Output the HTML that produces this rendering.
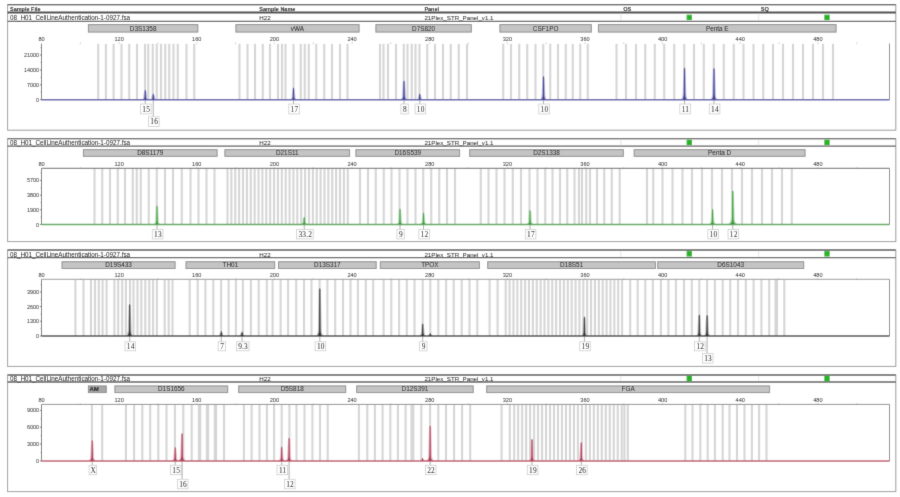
<!DOCTYPE html>
<html><head><meta charset="utf-8"><title>Electropherogram</title>
<style>html,body{margin:0;padding:0;background:#fff;}body{width:900px;height:497px;overflow:hidden;}svg{display:block;}</style></head><body>
<svg width="900" height="497" viewBox="0 0 900 497">
<defs><filter id="soft" x="0" y="0" width="900" height="497" filterUnits="userSpaceOnUse"><feConvolveMatrix order="3" kernelMatrix="0.0121 0.0858 0.0121 0.0858 0.6084 0.0858 0.0121 0.0858 0.0121" divisor="1" edgeMode="duplicate"/></filter></defs>
<g filter="url(#soft)">
<rect x="0" y="0" width="900" height="497" fill="#fff"/>
<rect x="7.6" y="4.7" width="888.2" height="125.5" fill="none" stroke="#9a9a9a" stroke-width="1"/>
<line x1="7.6" y1="4.7" x2="895.8" y2="4.7" stroke="#555" stroke-width="1.2"/>
<line x1="7.6" y1="12.5" x2="895.8" y2="12.5" stroke="#444" stroke-width="1.8"/>
<text x="10" y="10.7" font-family="'Liberation Sans', Arial, sans-serif" font-size="5.5" font-weight="bold" fill="#000" text-anchor="start">Sample File</text>
<text x="259.3" y="10.7" font-family="'Liberation Sans', Arial, sans-serif" font-size="5.5" font-weight="bold" fill="#000" text-anchor="start">Sample Name</text>
<text x="424.4" y="10.7" font-family="'Liberation Sans', Arial, sans-serif" font-size="5.5" font-weight="bold" fill="#000" text-anchor="start">Panel</text>
<text x="623.2" y="10.7" font-family="'Liberation Sans', Arial, sans-serif" font-size="5.7" font-weight="bold" fill="#111" text-anchor="start">OS</text>
<text x="760.8" y="10.7" font-family="'Liberation Sans', Arial, sans-serif" font-size="5.7" font-weight="bold" fill="#111" text-anchor="start">SQ</text>
<line x1="7.6" y1="21.3" x2="895.8" y2="21.3" stroke="#5a5a5a" stroke-width="1.3"/>
<line x1="620.8" y1="13.3" x2="620.8" y2="20.5" stroke="#ddd" stroke-width="0.8"/>
<line x1="758.6" y1="13.3" x2="758.6" y2="20.5" stroke="#ddd" stroke-width="0.8"/>
<text x="10" y="19.7" font-family="'Liberation Sans', Arial, sans-serif" font-size="6.3" font-weight="normal" fill="#000" text-anchor="start">08_H01_CellLineAuthentication-1-0927.fsa</text>
<text x="259.3" y="19.7" font-family="'Liberation Sans', Arial, sans-serif" font-size="6.2" font-weight="normal" fill="#000" text-anchor="start">H22</text>
<text x="424.4" y="19.7" font-family="'Liberation Sans', Arial, sans-serif" font-size="6.2" font-weight="normal" fill="#000" text-anchor="start">21Plex_STR_Panel_v1.1</text>
<rect x="686.6" y="14.7" width="5.4" height="5.4" fill="#27b327"/>
<rect x="824.3" y="14.7" width="5.4" height="5.4" fill="#27b327"/>
<rect x="88.4" y="24.6" width="109.45" height="7.5" fill="#c4c4c4" stroke="#8e8e8e" stroke-width="1"/>
<text x="143.12" y="30.5" font-family="'Liberation Sans', Arial, sans-serif" font-size="6.4" font-weight="normal" fill="#111" text-anchor="middle">D3S1358</text>
<rect x="235.9" y="24.6" width="123.2" height="7.5" fill="#c4c4c4" stroke="#8e8e8e" stroke-width="1"/>
<text x="297.5" y="30.5" font-family="'Liberation Sans', Arial, sans-serif" font-size="6.4" font-weight="normal" fill="#111" text-anchor="middle">vWA</text>
<rect x="375.9" y="24.6" width="95.45" height="7.5" fill="#c4c4c4" stroke="#8e8e8e" stroke-width="1"/>
<text x="423.62" y="30.5" font-family="'Liberation Sans', Arial, sans-serif" font-size="6.4" font-weight="normal" fill="#111" text-anchor="middle">D7S820</text>
<rect x="499.9" y="24.6" width="91.45" height="7.5" fill="#c4c4c4" stroke="#8e8e8e" stroke-width="1"/>
<text x="545.62" y="30.5" font-family="'Liberation Sans', Arial, sans-serif" font-size="6.4" font-weight="normal" fill="#111" text-anchor="middle">CSF1PO</text>
<rect x="598.4" y="24.6" width="237.7" height="7.5" fill="#c4c4c4" stroke="#8e8e8e" stroke-width="1"/>
<text x="717.25" y="30.5" font-family="'Liberation Sans', Arial, sans-serif" font-size="6.4" font-weight="normal" fill="#111" text-anchor="middle">Penta E</text>
<text x="41.5" y="40.8" font-family="'Liberation Sans', Arial, sans-serif" font-size="5.6" font-weight="normal" fill="#111" text-anchor="middle">80</text>
<line x1="80.32" y1="42.4" x2="80.32" y2="44.2" stroke="#bbb" stroke-width="0.7"/>
<text x="119.14" y="40.8" font-family="'Liberation Sans', Arial, sans-serif" font-size="5.6" font-weight="normal" fill="#111" text-anchor="middle">120</text>
<line x1="119.14" y1="42.4" x2="119.14" y2="44.2" stroke="#bbb" stroke-width="0.7"/>
<line x1="157.96" y1="42.4" x2="157.96" y2="44.2" stroke="#bbb" stroke-width="0.7"/>
<text x="196.78" y="40.8" font-family="'Liberation Sans', Arial, sans-serif" font-size="5.6" font-weight="normal" fill="#111" text-anchor="middle">160</text>
<line x1="196.78" y1="42.4" x2="196.78" y2="44.2" stroke="#bbb" stroke-width="0.7"/>
<line x1="235.6" y1="42.4" x2="235.6" y2="44.2" stroke="#bbb" stroke-width="0.7"/>
<text x="274.42" y="40.8" font-family="'Liberation Sans', Arial, sans-serif" font-size="5.6" font-weight="normal" fill="#111" text-anchor="middle">200</text>
<line x1="274.42" y1="42.4" x2="274.42" y2="44.2" stroke="#bbb" stroke-width="0.7"/>
<line x1="313.24" y1="42.4" x2="313.24" y2="44.2" stroke="#bbb" stroke-width="0.7"/>
<text x="352.06" y="40.8" font-family="'Liberation Sans', Arial, sans-serif" font-size="5.6" font-weight="normal" fill="#111" text-anchor="middle">240</text>
<line x1="352.06" y1="42.4" x2="352.06" y2="44.2" stroke="#bbb" stroke-width="0.7"/>
<line x1="390.88" y1="42.4" x2="390.88" y2="44.2" stroke="#bbb" stroke-width="0.7"/>
<text x="429.7" y="40.8" font-family="'Liberation Sans', Arial, sans-serif" font-size="5.6" font-weight="normal" fill="#111" text-anchor="middle">280</text>
<line x1="429.7" y1="42.4" x2="429.7" y2="44.2" stroke="#bbb" stroke-width="0.7"/>
<line x1="468.52" y1="42.4" x2="468.52" y2="44.2" stroke="#bbb" stroke-width="0.7"/>
<text x="507.34" y="40.8" font-family="'Liberation Sans', Arial, sans-serif" font-size="5.6" font-weight="normal" fill="#111" text-anchor="middle">320</text>
<line x1="507.34" y1="42.4" x2="507.34" y2="44.2" stroke="#bbb" stroke-width="0.7"/>
<line x1="546.16" y1="42.4" x2="546.16" y2="44.2" stroke="#bbb" stroke-width="0.7"/>
<text x="584.98" y="40.8" font-family="'Liberation Sans', Arial, sans-serif" font-size="5.6" font-weight="normal" fill="#111" text-anchor="middle">360</text>
<line x1="584.98" y1="42.4" x2="584.98" y2="44.2" stroke="#bbb" stroke-width="0.7"/>
<line x1="623.8" y1="42.4" x2="623.8" y2="44.2" stroke="#bbb" stroke-width="0.7"/>
<text x="662.62" y="40.8" font-family="'Liberation Sans', Arial, sans-serif" font-size="5.6" font-weight="normal" fill="#111" text-anchor="middle">400</text>
<line x1="662.62" y1="42.4" x2="662.62" y2="44.2" stroke="#bbb" stroke-width="0.7"/>
<line x1="701.44" y1="42.4" x2="701.44" y2="44.2" stroke="#bbb" stroke-width="0.7"/>
<text x="740.26" y="40.8" font-family="'Liberation Sans', Arial, sans-serif" font-size="5.6" font-weight="normal" fill="#111" text-anchor="middle">440</text>
<line x1="740.26" y1="42.4" x2="740.26" y2="44.2" stroke="#bbb" stroke-width="0.7"/>
<line x1="779.08" y1="42.4" x2="779.08" y2="44.2" stroke="#bbb" stroke-width="0.7"/>
<text x="817.9" y="40.8" font-family="'Liberation Sans', Arial, sans-serif" font-size="5.6" font-weight="normal" fill="#111" text-anchor="middle">480</text>
<line x1="817.9" y1="42.4" x2="817.9" y2="44.2" stroke="#bbb" stroke-width="0.7"/>
<line x1="856.72" y1="42.4" x2="856.72" y2="44.2" stroke="#bbb" stroke-width="0.7"/>
<line x1="98.2" y1="43.8" x2="98.2" y2="99.7" stroke="#d5d5d5" stroke-width="2.1"/>
<line x1="105.9" y1="43.8" x2="105.9" y2="99.7" stroke="#d5d5d5" stroke-width="2.1"/>
<line x1="113.6" y1="43.8" x2="113.6" y2="99.7" stroke="#d5d5d5" stroke-width="2.1"/>
<line x1="121.5" y1="43.8" x2="121.5" y2="99.7" stroke="#d5d5d5" stroke-width="2.1"/>
<line x1="129.25" y1="43.8" x2="129.25" y2="99.7" stroke="#d5d5d5" stroke-width="2.1"/>
<line x1="137" y1="43.8" x2="137" y2="99.7" stroke="#d5d5d5" stroke-width="2.1"/>
<line x1="145" y1="43.8" x2="145" y2="99.7" stroke="#d5d5d5" stroke-width="2.1"/>
<line x1="148.25" y1="43.8" x2="148.25" y2="99.7" stroke="#d5d5d5" stroke-width="2.1"/>
<line x1="152.75" y1="43.8" x2="152.75" y2="99.7" stroke="#d5d5d5" stroke-width="2.1"/>
<line x1="156.75" y1="43.8" x2="156.75" y2="99.7" stroke="#d5d5d5" stroke-width="2.1"/>
<line x1="161" y1="43.8" x2="161" y2="99.7" stroke="#d5d5d5" stroke-width="2.1"/>
<line x1="165.25" y1="43.8" x2="165.25" y2="99.7" stroke="#d5d5d5" stroke-width="2.1"/>
<line x1="169.25" y1="43.8" x2="169.25" y2="99.7" stroke="#d5d5d5" stroke-width="2.1"/>
<line x1="173.5" y1="43.8" x2="173.5" y2="99.7" stroke="#d5d5d5" stroke-width="2.1"/>
<line x1="177.75" y1="43.8" x2="177.75" y2="99.7" stroke="#d5d5d5" stroke-width="2.1"/>
<line x1="186.5" y1="43.8" x2="186.5" y2="99.7" stroke="#d5d5d5" stroke-width="2.1"/>
<line x1="194.25" y1="43.8" x2="194.25" y2="99.7" stroke="#d5d5d5" stroke-width="2.1"/>
<line x1="239.5" y1="43.8" x2="239.5" y2="99.7" stroke="#d5d5d5" stroke-width="2.1"/>
<line x1="247.5" y1="43.8" x2="247.5" y2="99.7" stroke="#d5d5d5" stroke-width="2.1"/>
<line x1="255" y1="43.8" x2="255" y2="99.7" stroke="#d5d5d5" stroke-width="2.1"/>
<line x1="262.75" y1="43.8" x2="262.75" y2="99.7" stroke="#d5d5d5" stroke-width="2.1"/>
<line x1="270" y1="43.8" x2="270" y2="99.7" stroke="#d5d5d5" stroke-width="2.1"/>
<line x1="278" y1="43.8" x2="278" y2="99.7" stroke="#d5d5d5" stroke-width="2.1"/>
<line x1="282" y1="43.8" x2="282" y2="99.7" stroke="#d5d5d5" stroke-width="2.1"/>
<line x1="285.5" y1="43.8" x2="285.5" y2="99.7" stroke="#d5d5d5" stroke-width="2.1"/>
<line x1="293.5" y1="43.8" x2="293.5" y2="99.7" stroke="#d5d5d5" stroke-width="2.1"/>
<line x1="300.75" y1="43.8" x2="300.75" y2="99.7" stroke="#d5d5d5" stroke-width="2.1"/>
<line x1="304.75" y1="43.8" x2="304.75" y2="99.7" stroke="#d5d5d5" stroke-width="2.1"/>
<line x1="308.75" y1="43.8" x2="308.75" y2="99.7" stroke="#d5d5d5" stroke-width="2.1"/>
<line x1="316.25" y1="43.8" x2="316.25" y2="99.7" stroke="#d5d5d5" stroke-width="2.1"/>
<line x1="324.25" y1="43.8" x2="324.25" y2="99.7" stroke="#d5d5d5" stroke-width="2.1"/>
<line x1="332" y1="43.8" x2="332" y2="99.7" stroke="#d5d5d5" stroke-width="2.1"/>
<line x1="340" y1="43.8" x2="340" y2="99.7" stroke="#d5d5d5" stroke-width="2.1"/>
<line x1="347.5" y1="43.8" x2="347.5" y2="99.7" stroke="#d5d5d5" stroke-width="2.1"/>
<line x1="380" y1="43.8" x2="380" y2="99.7" stroke="#d5d5d5" stroke-width="2.1"/>
<line x1="383.5" y1="43.8" x2="383.5" y2="99.7" stroke="#d5d5d5" stroke-width="2.1"/>
<line x1="388" y1="43.8" x2="388" y2="99.7" stroke="#d5d5d5" stroke-width="2.1"/>
<line x1="396" y1="43.8" x2="396" y2="99.7" stroke="#d5d5d5" stroke-width="2.1"/>
<line x1="403.75" y1="43.8" x2="403.75" y2="99.7" stroke="#d5d5d5" stroke-width="2.1"/>
<line x1="407.5" y1="43.8" x2="407.5" y2="99.7" stroke="#d5d5d5" stroke-width="2.1"/>
<line x1="411.75" y1="43.8" x2="411.75" y2="99.7" stroke="#d5d5d5" stroke-width="2.1"/>
<line x1="415.5" y1="43.8" x2="415.5" y2="99.7" stroke="#d5d5d5" stroke-width="2.1"/>
<line x1="419.5" y1="43.8" x2="419.5" y2="99.7" stroke="#d5d5d5" stroke-width="2.1"/>
<line x1="427.25" y1="43.8" x2="427.25" y2="99.7" stroke="#d5d5d5" stroke-width="2.1"/>
<line x1="435" y1="43.8" x2="435" y2="99.7" stroke="#d5d5d5" stroke-width="2.1"/>
<line x1="443" y1="43.8" x2="443" y2="99.7" stroke="#d5d5d5" stroke-width="2.1"/>
<line x1="450.75" y1="43.8" x2="450.75" y2="99.7" stroke="#d5d5d5" stroke-width="2.1"/>
<line x1="458.75" y1="43.8" x2="458.75" y2="99.7" stroke="#d5d5d5" stroke-width="2.1"/>
<line x1="467" y1="43.8" x2="467" y2="99.7" stroke="#d5d5d5" stroke-width="2.1"/>
<line x1="503.25" y1="43.8" x2="503.25" y2="99.7" stroke="#d5d5d5" stroke-width="2.1"/>
<line x1="511" y1="43.8" x2="511" y2="99.7" stroke="#d5d5d5" stroke-width="2.1"/>
<line x1="519.25" y1="43.8" x2="519.25" y2="99.7" stroke="#d5d5d5" stroke-width="2.1"/>
<line x1="527.25" y1="43.8" x2="527.25" y2="99.7" stroke="#d5d5d5" stroke-width="2.1"/>
<line x1="535.5" y1="43.8" x2="535.5" y2="99.7" stroke="#d5d5d5" stroke-width="2.1"/>
<line x1="543.25" y1="43.8" x2="543.25" y2="99.7" stroke="#d5d5d5" stroke-width="2.1"/>
<line x1="550.25" y1="43.8" x2="550.25" y2="99.7" stroke="#d5d5d5" stroke-width="2.1"/>
<line x1="558" y1="43.8" x2="558" y2="99.7" stroke="#d5d5d5" stroke-width="2.1"/>
<line x1="565.75" y1="43.8" x2="565.75" y2="99.7" stroke="#d5d5d5" stroke-width="2.1"/>
<line x1="572.75" y1="43.8" x2="572.75" y2="99.7" stroke="#d5d5d5" stroke-width="2.1"/>
<line x1="580.25" y1="43.8" x2="580.25" y2="99.7" stroke="#d5d5d5" stroke-width="2.1"/>
<line x1="587.75" y1="43.8" x2="587.75" y2="99.7" stroke="#d5d5d5" stroke-width="2.1"/>
<line x1="616.5" y1="43.8" x2="616.5" y2="99.7" stroke="#d5d5d5" stroke-width="2.1"/>
<line x1="626" y1="43.8" x2="626" y2="99.7" stroke="#d5d5d5" stroke-width="2.1"/>
<line x1="636" y1="43.8" x2="636" y2="99.7" stroke="#d5d5d5" stroke-width="2.1"/>
<line x1="645.25" y1="43.8" x2="645.25" y2="99.7" stroke="#d5d5d5" stroke-width="2.1"/>
<line x1="654.75" y1="43.8" x2="654.75" y2="99.7" stroke="#d5d5d5" stroke-width="2.1"/>
<line x1="664.25" y1="43.8" x2="664.25" y2="99.7" stroke="#d5d5d5" stroke-width="2.1"/>
<line x1="674.25" y1="43.8" x2="674.25" y2="99.7" stroke="#d5d5d5" stroke-width="2.1"/>
<line x1="684.25" y1="43.8" x2="684.25" y2="99.7" stroke="#d5d5d5" stroke-width="2.1"/>
<line x1="694" y1="43.8" x2="694" y2="99.7" stroke="#d5d5d5" stroke-width="2.1"/>
<line x1="703.75" y1="43.8" x2="703.75" y2="99.7" stroke="#d5d5d5" stroke-width="2.1"/>
<line x1="713.75" y1="43.8" x2="713.75" y2="99.7" stroke="#d5d5d5" stroke-width="2.1"/>
<line x1="723.75" y1="43.8" x2="723.75" y2="99.7" stroke="#d5d5d5" stroke-width="2.1"/>
<line x1="733.75" y1="43.8" x2="733.75" y2="99.7" stroke="#d5d5d5" stroke-width="2.1"/>
<line x1="743.5" y1="43.8" x2="743.5" y2="99.7" stroke="#d5d5d5" stroke-width="2.1"/>
<line x1="753.5" y1="43.8" x2="753.5" y2="99.7" stroke="#d5d5d5" stroke-width="2.1"/>
<line x1="763.25" y1="43.8" x2="763.25" y2="99.7" stroke="#d5d5d5" stroke-width="2.1"/>
<line x1="773" y1="43.8" x2="773" y2="99.7" stroke="#d5d5d5" stroke-width="2.1"/>
<line x1="783" y1="43.8" x2="783" y2="99.7" stroke="#d5d5d5" stroke-width="2.1"/>
<line x1="793" y1="43.8" x2="793" y2="99.7" stroke="#d5d5d5" stroke-width="2.1"/>
<line x1="803" y1="43.8" x2="803" y2="99.7" stroke="#d5d5d5" stroke-width="2.1"/>
<line x1="813" y1="43.8" x2="813" y2="99.7" stroke="#d5d5d5" stroke-width="2.1"/>
<line x1="823" y1="43.8" x2="823" y2="99.7" stroke="#d5d5d5" stroke-width="2.1"/>
<line x1="833" y1="43.8" x2="833" y2="99.7" stroke="#d5d5d5" stroke-width="2.1"/>
<line x1="889.5" y1="43.6" x2="889.5" y2="99.7" stroke="#777" stroke-width="0.9"/>
<line x1="41.5" y1="43.6" x2="41.5" y2="99.7" stroke="#707070" stroke-width="1"/>
<text x="38.9" y="57" font-family="'Liberation Sans', Arial, sans-serif" font-size="5.4" font-weight="normal" fill="#111" text-anchor="end">21000</text>
<line x1="39.9" y1="55" x2="41.5" y2="55" stroke="#555" stroke-width="0.8"/>
<text x="38.9" y="72" font-family="'Liberation Sans', Arial, sans-serif" font-size="5.4" font-weight="normal" fill="#111" text-anchor="end">14000</text>
<line x1="39.9" y1="70" x2="41.5" y2="70" stroke="#555" stroke-width="0.8"/>
<text x="38.9" y="86.8" font-family="'Liberation Sans', Arial, sans-serif" font-size="5.4" font-weight="normal" fill="#111" text-anchor="end">7000</text>
<line x1="39.9" y1="84.8" x2="41.5" y2="84.8" stroke="#555" stroke-width="0.8"/>
<text x="38.9" y="101.7" font-family="'Liberation Sans', Arial, sans-serif" font-size="5.4" font-weight="normal" fill="#111" text-anchor="end">0</text>
<line x1="39.9" y1="99.7" x2="41.5" y2="99.7" stroke="#555" stroke-width="0.8"/>
<line x1="40.5" y1="62.45" x2="41.5" y2="62.45" stroke="#777" stroke-width="0.7"/>
<line x1="40.5" y1="77.45" x2="41.5" y2="77.45" stroke="#777" stroke-width="0.7"/>
<line x1="40.5" y1="92.25" x2="41.5" y2="92.25" stroke="#777" stroke-width="0.7"/>
<line x1="40.5" y1="47.55" x2="41.5" y2="47.55" stroke="#777" stroke-width="0.7"/>
<line x1="145.25" y1="100.2" x2="145.25" y2="104" stroke="#8a8a8a" stroke-width="0.7"/>
<rect x="140.55" y="104" width="10.6" height="9.9" fill="#fff" stroke="#cdcdcd" stroke-width="0.8"/>
<text x="146.25" y="111.7" font-family="'Liberation Serif', 'Times New Roman', serif" font-size="7.4" font-weight="normal" fill="#000" text-anchor="middle" letter-spacing="0.2">15</text>
<line x1="153.25" y1="100.2" x2="153.25" y2="116.8" stroke="#8a8a8a" stroke-width="0.7"/>
<rect x="148.55" y="116.8" width="10.6" height="9.6" fill="#fff" stroke="#cdcdcd" stroke-width="0.8"/>
<text x="154.25" y="124.2" font-family="'Liberation Serif', 'Times New Roman', serif" font-size="7.4" font-weight="normal" fill="#000" text-anchor="middle" letter-spacing="0.2">16</text>
<line x1="293.5" y1="100.2" x2="293.5" y2="104" stroke="#8a8a8a" stroke-width="0.7"/>
<rect x="288.8" y="104" width="10.6" height="9.9" fill="#fff" stroke="#cdcdcd" stroke-width="0.8"/>
<text x="294.5" y="111.7" font-family="'Liberation Serif', 'Times New Roman', serif" font-size="7.4" font-weight="normal" fill="#000" text-anchor="middle" letter-spacing="0.2">17</text>
<line x1="404" y1="100.2" x2="404" y2="104" stroke="#8a8a8a" stroke-width="0.7"/>
<rect x="400.9" y="104" width="7.4" height="9.9" fill="#fff" stroke="#cdcdcd" stroke-width="0.8"/>
<text x="405" y="111.7" font-family="'Liberation Serif', 'Times New Roman', serif" font-size="7.4" font-weight="normal" fill="#000" text-anchor="middle" letter-spacing="0.2">8</text>
<line x1="419.75" y1="100.2" x2="419.75" y2="104" stroke="#8a8a8a" stroke-width="0.7"/>
<rect x="415.05" y="104" width="10.6" height="9.9" fill="#fff" stroke="#cdcdcd" stroke-width="0.8"/>
<text x="420.75" y="111.7" font-family="'Liberation Serif', 'Times New Roman', serif" font-size="7.4" font-weight="normal" fill="#000" text-anchor="middle" letter-spacing="0.2">10</text>
<line x1="543.5" y1="100.2" x2="543.5" y2="104" stroke="#8a8a8a" stroke-width="0.7"/>
<rect x="538.8" y="104" width="10.6" height="9.9" fill="#fff" stroke="#cdcdcd" stroke-width="0.8"/>
<text x="544.5" y="111.7" font-family="'Liberation Serif', 'Times New Roman', serif" font-size="7.4" font-weight="normal" fill="#000" text-anchor="middle" letter-spacing="0.2">10</text>
<line x1="684.5" y1="100.2" x2="684.5" y2="104" stroke="#8a8a8a" stroke-width="0.7"/>
<rect x="679.8" y="104" width="10.6" height="9.9" fill="#fff" stroke="#cdcdcd" stroke-width="0.8"/>
<text x="685.5" y="111.7" font-family="'Liberation Serif', 'Times New Roman', serif" font-size="7.4" font-weight="normal" fill="#000" text-anchor="middle" letter-spacing="0.2">11</text>
<line x1="714" y1="100.2" x2="714" y2="104" stroke="#8a8a8a" stroke-width="0.7"/>
<rect x="709.3" y="104" width="10.6" height="9.9" fill="#fff" stroke="#cdcdcd" stroke-width="0.8"/>
<text x="715" y="111.7" font-family="'Liberation Serif', 'Times New Roman', serif" font-size="7.4" font-weight="normal" fill="#000" text-anchor="middle" letter-spacing="0.2">14</text>
<path d="M140.85 99.5 C143.2 99.5 143.5 98.08 143.5 95.94 L144.15 91.25 Q145.25 89.05 146.35 91.25 L147 95.94 C147 98.08 147.3 99.5 149.65 99.5 Z" fill="#b4b4e2"/>
<path d="M148.09 99.5 C151.15 99.5 151.45 98.45 151.45 96.88 L152.15 95 Q153.25 92.8 154.35 95 L155.05 96.88 C155.05 98.45 155.35 99.5 158.41 99.5 Z" fill="#b4b4e2"/>
<path d="M289.1 99.5 C291.45 99.5 291.75 97.85 291.75 95.38 L292.4 89 Q293.5 86.8 294.6 89 L295.25 95.38 C295.25 97.85 295.55 99.5 297.9 99.5 Z" fill="#b4b4e2"/>
<path d="M399.6 99.5 C401.95 99.5 402.25 97.15 402.25 93.62 L402.9 82 Q404 79.8 405.1 82 L405.75 93.62 C405.75 97.15 406.05 99.5 408.4 99.5 Z" fill="#b4b4e2"/>
<path d="M415.35 99.5 C417.7 99.5 418 98.45 418 96.88 L418.65 95 Q419.75 92.8 420.85 95 L421.5 96.88 C421.5 98.45 421.8 99.5 424.15 99.5 Z" fill="#b4b4e2"/>
<path d="M539.1 99.5 C541.45 99.5 541.75 96.7 541.75 92.5 L542.4 77.5 Q543.5 75.3 544.6 77.5 L545.25 92.5 C545.25 96.7 545.55 99.5 547.9 99.5 Z" fill="#b4b4e2"/>
<path d="M680.1 99.5 C682.45 99.5 682.75 95.9 682.75 90.5 L683.4 69 Q684.5 66.8 685.6 69 L686.25 90.5 C686.25 95.9 686.55 99.5 688.9 99.5 Z" fill="#b4b4e2"/>
<path d="M709.6 99.5 C711.95 99.5 712.25 95.9 712.25 90.5 L712.9 69.5 Q714 67.3 715.1 69.5 L715.75 90.5 C715.75 95.9 716.05 99.5 718.4 99.5 Z" fill="#b4b4e2"/>
<line x1="41.5" y1="99.7" x2="889.5" y2="99.7" stroke="#6262ae" stroke-width="1.5"/>
<path d="M142.65 99.5 C144.3 99.5 144.6 98.08 144.6 95.94 L144.75 90.85 Q145.25 88.65 145.75 90.85 L145.9 95.94 C145.9 98.08 146.2 99.5 147.85 99.5 Z" fill="#3a3a88"/>
<path d="M150.13 99.5 C152.28 99.5 152.58 98.45 152.58 96.88 L152.75 94.6 Q153.25 92.4 153.75 94.6 L153.92 96.88 C153.92 98.45 154.22 99.5 156.37 99.5 Z" fill="#3a3a88"/>
<path d="M290.9 99.5 C292.55 99.5 292.85 97.85 292.85 95.38 L293 88.6 Q293.5 86.4 294 88.6 L294.15 95.38 C294.15 97.85 294.45 99.5 296.1 99.5 Z" fill="#3a3a88"/>
<path d="M401.4 99.5 C403.05 99.5 403.35 97.15 403.35 93.62 L403.5 81.6 Q404 79.4 404.5 81.6 L404.65 93.62 C404.65 97.15 404.95 99.5 406.6 99.5 Z" fill="#3a3a88"/>
<path d="M417.15 99.5 C418.8 99.5 419.1 98.45 419.1 96.88 L419.25 94.6 Q419.75 92.4 420.25 94.6 L420.4 96.88 C420.4 98.45 420.7 99.5 422.35 99.5 Z" fill="#3a3a88"/>
<path d="M540.9 99.5 C542.55 99.5 542.85 96.7 542.85 92.5 L543 77.1 Q543.5 74.9 544 77.1 L544.15 92.5 C544.15 96.7 544.45 99.5 546.1 99.5 Z" fill="#3a3a88"/>
<path d="M681.9 99.5 C683.55 99.5 683.85 95.9 683.85 90.5 L684 68.6 Q684.5 66.4 685 68.6 L685.15 90.5 C685.15 95.9 685.45 99.5 687.1 99.5 Z" fill="#3a3a88"/>
<path d="M711.4 99.5 C713.05 99.5 713.35 95.9 713.35 90.5 L713.5 69.1 Q714 66.9 714.5 69.1 L714.65 90.5 C714.65 95.9 714.95 99.5 716.6 99.5 Z" fill="#3a3a88"/>
<rect x="7.6" y="138.7" width="888.2" height="102.9" fill="none" stroke="#9a9a9a" stroke-width="1"/>
<line x1="7.6" y1="138.7" x2="895.8" y2="138.7" stroke="#666" stroke-width="1.3"/>
<line x1="7.6" y1="146.1" x2="895.8" y2="146.1" stroke="#5a5a5a" stroke-width="1.3"/>
<line x1="620.8" y1="139.5" x2="620.8" y2="145.3" stroke="#ddd" stroke-width="0.8"/>
<line x1="758.6" y1="139.5" x2="758.6" y2="145.3" stroke="#ddd" stroke-width="0.8"/>
<text x="10" y="145.2" font-family="'Liberation Sans', Arial, sans-serif" font-size="6.3" font-weight="normal" fill="#000" text-anchor="start">08_H01_CellLineAuthentication-1-0927.fsa</text>
<text x="259.3" y="145.2" font-family="'Liberation Sans', Arial, sans-serif" font-size="6.2" font-weight="normal" fill="#000" text-anchor="start">H22</text>
<text x="424.4" y="145.2" font-family="'Liberation Sans', Arial, sans-serif" font-size="6.2" font-weight="normal" fill="#000" text-anchor="start">21Plex_STR_Panel_v1.1</text>
<rect x="686.6" y="139.7" width="5.4" height="5.4" fill="#27b327"/>
<rect x="824.3" y="139.7" width="5.4" height="5.4" fill="#27b327"/>
<rect x="83.4" y="149.65" width="133.7" height="6.7" fill="#c4c4c4" stroke="#8e8e8e" stroke-width="1"/>
<text x="150.25" y="154.75" font-family="'Liberation Sans', Arial, sans-serif" font-size="6.4" font-weight="normal" fill="#111" text-anchor="middle">D8S1179</text>
<rect x="224.9" y="149.65" width="124.7" height="6.7" fill="#c4c4c4" stroke="#8e8e8e" stroke-width="1"/>
<text x="287.25" y="154.75" font-family="'Liberation Sans', Arial, sans-serif" font-size="6.4" font-weight="normal" fill="#111" text-anchor="middle">D21S11</text>
<rect x="355.9" y="149.65" width="103.7" height="6.7" fill="#c4c4c4" stroke="#8e8e8e" stroke-width="1"/>
<text x="407.75" y="154.75" font-family="'Liberation Sans', Arial, sans-serif" font-size="6.4" font-weight="normal" fill="#111" text-anchor="middle">D16S539</text>
<rect x="469.65" y="149.65" width="153.7" height="6.7" fill="#c4c4c4" stroke="#8e8e8e" stroke-width="1"/>
<text x="546.5" y="154.75" font-family="'Liberation Sans', Arial, sans-serif" font-size="6.4" font-weight="normal" fill="#111" text-anchor="middle">D2S1338</text>
<rect x="634.15" y="149.65" width="170.95" height="6.7" fill="#c4c4c4" stroke="#8e8e8e" stroke-width="1"/>
<text x="719.62" y="154.75" font-family="'Liberation Sans', Arial, sans-serif" font-size="6.4" font-weight="normal" fill="#111" text-anchor="middle">Penta D</text>
<text x="41.5" y="165.7" font-family="'Liberation Sans', Arial, sans-serif" font-size="5.6" font-weight="normal" fill="#111" text-anchor="middle">80</text>
<line x1="80.32" y1="167.1" x2="80.32" y2="168.9" stroke="#bbb" stroke-width="0.7"/>
<text x="119.14" y="165.7" font-family="'Liberation Sans', Arial, sans-serif" font-size="5.6" font-weight="normal" fill="#111" text-anchor="middle">120</text>
<line x1="119.14" y1="167.1" x2="119.14" y2="168.9" stroke="#bbb" stroke-width="0.7"/>
<line x1="157.96" y1="167.1" x2="157.96" y2="168.9" stroke="#bbb" stroke-width="0.7"/>
<text x="196.78" y="165.7" font-family="'Liberation Sans', Arial, sans-serif" font-size="5.6" font-weight="normal" fill="#111" text-anchor="middle">160</text>
<line x1="196.78" y1="167.1" x2="196.78" y2="168.9" stroke="#bbb" stroke-width="0.7"/>
<line x1="235.6" y1="167.1" x2="235.6" y2="168.9" stroke="#bbb" stroke-width="0.7"/>
<text x="274.42" y="165.7" font-family="'Liberation Sans', Arial, sans-serif" font-size="5.6" font-weight="normal" fill="#111" text-anchor="middle">200</text>
<line x1="274.42" y1="167.1" x2="274.42" y2="168.9" stroke="#bbb" stroke-width="0.7"/>
<line x1="313.24" y1="167.1" x2="313.24" y2="168.9" stroke="#bbb" stroke-width="0.7"/>
<text x="352.06" y="165.7" font-family="'Liberation Sans', Arial, sans-serif" font-size="5.6" font-weight="normal" fill="#111" text-anchor="middle">240</text>
<line x1="352.06" y1="167.1" x2="352.06" y2="168.9" stroke="#bbb" stroke-width="0.7"/>
<line x1="390.88" y1="167.1" x2="390.88" y2="168.9" stroke="#bbb" stroke-width="0.7"/>
<text x="429.7" y="165.7" font-family="'Liberation Sans', Arial, sans-serif" font-size="5.6" font-weight="normal" fill="#111" text-anchor="middle">280</text>
<line x1="429.7" y1="167.1" x2="429.7" y2="168.9" stroke="#bbb" stroke-width="0.7"/>
<line x1="468.52" y1="167.1" x2="468.52" y2="168.9" stroke="#bbb" stroke-width="0.7"/>
<text x="507.34" y="165.7" font-family="'Liberation Sans', Arial, sans-serif" font-size="5.6" font-weight="normal" fill="#111" text-anchor="middle">320</text>
<line x1="507.34" y1="167.1" x2="507.34" y2="168.9" stroke="#bbb" stroke-width="0.7"/>
<line x1="546.16" y1="167.1" x2="546.16" y2="168.9" stroke="#bbb" stroke-width="0.7"/>
<text x="584.98" y="165.7" font-family="'Liberation Sans', Arial, sans-serif" font-size="5.6" font-weight="normal" fill="#111" text-anchor="middle">360</text>
<line x1="584.98" y1="167.1" x2="584.98" y2="168.9" stroke="#bbb" stroke-width="0.7"/>
<line x1="623.8" y1="167.1" x2="623.8" y2="168.9" stroke="#bbb" stroke-width="0.7"/>
<text x="662.62" y="165.7" font-family="'Liberation Sans', Arial, sans-serif" font-size="5.6" font-weight="normal" fill="#111" text-anchor="middle">400</text>
<line x1="662.62" y1="167.1" x2="662.62" y2="168.9" stroke="#bbb" stroke-width="0.7"/>
<line x1="701.44" y1="167.1" x2="701.44" y2="168.9" stroke="#bbb" stroke-width="0.7"/>
<text x="740.26" y="165.7" font-family="'Liberation Sans', Arial, sans-serif" font-size="5.6" font-weight="normal" fill="#111" text-anchor="middle">440</text>
<line x1="740.26" y1="167.1" x2="740.26" y2="168.9" stroke="#bbb" stroke-width="0.7"/>
<line x1="779.08" y1="167.1" x2="779.08" y2="168.9" stroke="#bbb" stroke-width="0.7"/>
<text x="817.9" y="165.7" font-family="'Liberation Sans', Arial, sans-serif" font-size="5.6" font-weight="normal" fill="#111" text-anchor="middle">480</text>
<line x1="817.9" y1="167.1" x2="817.9" y2="168.9" stroke="#bbb" stroke-width="0.7"/>
<line x1="856.72" y1="167.1" x2="856.72" y2="168.9" stroke="#bbb" stroke-width="0.7"/>
<line x1="94.5" y1="168.5" x2="94.5" y2="224.5" stroke="#d5d5d5" stroke-width="2.1"/>
<line x1="102.25" y1="168.5" x2="102.25" y2="224.5" stroke="#d5d5d5" stroke-width="2.1"/>
<line x1="110" y1="168.5" x2="110" y2="224.5" stroke="#d5d5d5" stroke-width="2.1"/>
<line x1="117.75" y1="168.5" x2="117.75" y2="224.5" stroke="#d5d5d5" stroke-width="2.1"/>
<line x1="125" y1="168.5" x2="125" y2="224.5" stroke="#d5d5d5" stroke-width="2.1"/>
<line x1="132.75" y1="168.5" x2="132.75" y2="224.5" stroke="#d5d5d5" stroke-width="2.1"/>
<line x1="136.75" y1="168.5" x2="136.75" y2="224.5" stroke="#d5d5d5" stroke-width="2.1"/>
<line x1="140.75" y1="168.5" x2="140.75" y2="224.5" stroke="#d5d5d5" stroke-width="2.1"/>
<line x1="148.75" y1="168.5" x2="148.75" y2="224.5" stroke="#d5d5d5" stroke-width="2.1"/>
<line x1="156.75" y1="168.5" x2="156.75" y2="224.5" stroke="#d5d5d5" stroke-width="2.1"/>
<line x1="165" y1="168.5" x2="165" y2="224.5" stroke="#d5d5d5" stroke-width="2.1"/>
<line x1="173" y1="168.5" x2="173" y2="224.5" stroke="#d5d5d5" stroke-width="2.1"/>
<line x1="181.75" y1="168.5" x2="181.75" y2="224.5" stroke="#d5d5d5" stroke-width="2.1"/>
<line x1="190.5" y1="168.5" x2="190.5" y2="224.5" stroke="#d5d5d5" stroke-width="2.1"/>
<line x1="198.5" y1="168.5" x2="198.5" y2="224.5" stroke="#d5d5d5" stroke-width="2.1"/>
<line x1="206.5" y1="168.5" x2="206.5" y2="224.5" stroke="#d5d5d5" stroke-width="2.1"/>
<line x1="214.5" y1="168.5" x2="214.5" y2="224.5" stroke="#d5d5d5" stroke-width="2.1"/>
<line x1="227.5" y1="168.5" x2="227.5" y2="224.5" stroke="#d5d5d5" stroke-width="2.1"/>
<line x1="231.38" y1="168.5" x2="231.38" y2="224.5" stroke="#d5d5d5" stroke-width="2.1"/>
<line x1="235.26" y1="168.5" x2="235.26" y2="224.5" stroke="#d5d5d5" stroke-width="2.1"/>
<line x1="239.14" y1="168.5" x2="239.14" y2="224.5" stroke="#d5d5d5" stroke-width="2.1"/>
<line x1="243.02" y1="168.5" x2="243.02" y2="224.5" stroke="#d5d5d5" stroke-width="2.1"/>
<line x1="246.9" y1="168.5" x2="246.9" y2="224.5" stroke="#d5d5d5" stroke-width="2.1"/>
<line x1="250.77" y1="168.5" x2="250.77" y2="224.5" stroke="#d5d5d5" stroke-width="2.1"/>
<line x1="254.65" y1="168.5" x2="254.65" y2="224.5" stroke="#d5d5d5" stroke-width="2.1"/>
<line x1="258.53" y1="168.5" x2="258.53" y2="224.5" stroke="#d5d5d5" stroke-width="2.1"/>
<line x1="262.41" y1="168.5" x2="262.41" y2="224.5" stroke="#d5d5d5" stroke-width="2.1"/>
<line x1="266.29" y1="168.5" x2="266.29" y2="224.5" stroke="#d5d5d5" stroke-width="2.1"/>
<line x1="270.17" y1="168.5" x2="270.17" y2="224.5" stroke="#d5d5d5" stroke-width="2.1"/>
<line x1="274.05" y1="168.5" x2="274.05" y2="224.5" stroke="#d5d5d5" stroke-width="2.1"/>
<line x1="277.93" y1="168.5" x2="277.93" y2="224.5" stroke="#d5d5d5" stroke-width="2.1"/>
<line x1="281.81" y1="168.5" x2="281.81" y2="224.5" stroke="#d5d5d5" stroke-width="2.1"/>
<line x1="285.69" y1="168.5" x2="285.69" y2="224.5" stroke="#d5d5d5" stroke-width="2.1"/>
<line x1="289.56" y1="168.5" x2="289.56" y2="224.5" stroke="#d5d5d5" stroke-width="2.1"/>
<line x1="293.44" y1="168.5" x2="293.44" y2="224.5" stroke="#d5d5d5" stroke-width="2.1"/>
<line x1="297.32" y1="168.5" x2="297.32" y2="224.5" stroke="#d5d5d5" stroke-width="2.1"/>
<line x1="301.2" y1="168.5" x2="301.2" y2="224.5" stroke="#d5d5d5" stroke-width="2.1"/>
<line x1="305.08" y1="168.5" x2="305.08" y2="224.5" stroke="#d5d5d5" stroke-width="2.1"/>
<line x1="308.96" y1="168.5" x2="308.96" y2="224.5" stroke="#d5d5d5" stroke-width="2.1"/>
<line x1="312.84" y1="168.5" x2="312.84" y2="224.5" stroke="#d5d5d5" stroke-width="2.1"/>
<line x1="316.72" y1="168.5" x2="316.72" y2="224.5" stroke="#d5d5d5" stroke-width="2.1"/>
<line x1="320.6" y1="168.5" x2="320.6" y2="224.5" stroke="#d5d5d5" stroke-width="2.1"/>
<line x1="324.48" y1="168.5" x2="324.48" y2="224.5" stroke="#d5d5d5" stroke-width="2.1"/>
<line x1="328.35" y1="168.5" x2="328.35" y2="224.5" stroke="#d5d5d5" stroke-width="2.1"/>
<line x1="332.23" y1="168.5" x2="332.23" y2="224.5" stroke="#d5d5d5" stroke-width="2.1"/>
<line x1="336.11" y1="168.5" x2="336.11" y2="224.5" stroke="#d5d5d5" stroke-width="2.1"/>
<line x1="339.99" y1="168.5" x2="339.99" y2="224.5" stroke="#d5d5d5" stroke-width="2.1"/>
<line x1="343.87" y1="168.5" x2="343.87" y2="224.5" stroke="#d5d5d5" stroke-width="2.1"/>
<line x1="347.75" y1="168.5" x2="347.75" y2="224.5" stroke="#d5d5d5" stroke-width="2.1"/>
<line x1="360" y1="168.5" x2="360" y2="224.5" stroke="#d5d5d5" stroke-width="2.1"/>
<line x1="368" y1="168.5" x2="368" y2="224.5" stroke="#d5d5d5" stroke-width="2.1"/>
<line x1="375.75" y1="168.5" x2="375.75" y2="224.5" stroke="#d5d5d5" stroke-width="2.1"/>
<line x1="383.75" y1="168.5" x2="383.75" y2="224.5" stroke="#d5d5d5" stroke-width="2.1"/>
<line x1="391.5" y1="168.5" x2="391.5" y2="224.5" stroke="#d5d5d5" stroke-width="2.1"/>
<line x1="399.5" y1="168.5" x2="399.5" y2="224.5" stroke="#d5d5d5" stroke-width="2.1"/>
<line x1="407.5" y1="168.5" x2="407.5" y2="224.5" stroke="#d5d5d5" stroke-width="2.1"/>
<line x1="415.5" y1="168.5" x2="415.5" y2="224.5" stroke="#d5d5d5" stroke-width="2.1"/>
<line x1="423.25" y1="168.5" x2="423.25" y2="224.5" stroke="#d5d5d5" stroke-width="2.1"/>
<line x1="431.25" y1="168.5" x2="431.25" y2="224.5" stroke="#d5d5d5" stroke-width="2.1"/>
<line x1="439.25" y1="168.5" x2="439.25" y2="224.5" stroke="#d5d5d5" stroke-width="2.1"/>
<line x1="447" y1="168.5" x2="447" y2="224.5" stroke="#d5d5d5" stroke-width="2.1"/>
<line x1="455" y1="168.5" x2="455" y2="224.5" stroke="#d5d5d5" stroke-width="2.1"/>
<line x1="480.75" y1="168.5" x2="480.75" y2="224.5" stroke="#d5d5d5" stroke-width="2.1"/>
<line x1="488.5" y1="168.5" x2="488.5" y2="224.5" stroke="#d5d5d5" stroke-width="2.1"/>
<line x1="496.5" y1="168.5" x2="496.5" y2="224.5" stroke="#d5d5d5" stroke-width="2.1"/>
<line x1="504.5" y1="168.5" x2="504.5" y2="224.5" stroke="#d5d5d5" stroke-width="2.1"/>
<line x1="512.75" y1="168.5" x2="512.75" y2="224.5" stroke="#d5d5d5" stroke-width="2.1"/>
<line x1="521" y1="168.5" x2="521" y2="224.5" stroke="#d5d5d5" stroke-width="2.1"/>
<line x1="529.5" y1="168.5" x2="529.5" y2="224.5" stroke="#d5d5d5" stroke-width="2.1"/>
<line x1="537.5" y1="168.5" x2="537.5" y2="224.5" stroke="#d5d5d5" stroke-width="2.1"/>
<line x1="545.25" y1="168.5" x2="545.25" y2="224.5" stroke="#d5d5d5" stroke-width="2.1"/>
<line x1="552.5" y1="168.5" x2="552.5" y2="224.5" stroke="#d5d5d5" stroke-width="2.1"/>
<line x1="560" y1="168.5" x2="560" y2="224.5" stroke="#d5d5d5" stroke-width="2.1"/>
<line x1="567.25" y1="168.5" x2="567.25" y2="224.5" stroke="#d5d5d5" stroke-width="2.1"/>
<line x1="574.5" y1="168.5" x2="574.5" y2="224.5" stroke="#d5d5d5" stroke-width="2.1"/>
<line x1="579" y1="168.5" x2="579" y2="224.5" stroke="#d5d5d5" stroke-width="2.1"/>
<line x1="582" y1="168.5" x2="582" y2="224.5" stroke="#d5d5d5" stroke-width="2.1"/>
<line x1="586.25" y1="168.5" x2="586.25" y2="224.5" stroke="#d5d5d5" stroke-width="2.1"/>
<line x1="590" y1="168.5" x2="590" y2="224.5" stroke="#d5d5d5" stroke-width="2.1"/>
<line x1="597" y1="168.5" x2="597" y2="224.5" stroke="#d5d5d5" stroke-width="2.1"/>
<line x1="604.25" y1="168.5" x2="604.25" y2="224.5" stroke="#d5d5d5" stroke-width="2.1"/>
<line x1="611.75" y1="168.5" x2="611.75" y2="224.5" stroke="#d5d5d5" stroke-width="2.1"/>
<line x1="619.7" y1="168.5" x2="619.7" y2="224.5" stroke="#d5d5d5" stroke-width="2.1"/>
<line x1="647" y1="168.5" x2="647" y2="224.5" stroke="#d5d5d5" stroke-width="2.1"/>
<line x1="653.25" y1="168.5" x2="653.25" y2="224.5" stroke="#d5d5d5" stroke-width="2.1"/>
<line x1="662.5" y1="168.5" x2="662.5" y2="224.5" stroke="#d5d5d5" stroke-width="2.1"/>
<line x1="672.5" y1="168.5" x2="672.5" y2="224.5" stroke="#d5d5d5" stroke-width="2.1"/>
<line x1="682.5" y1="168.5" x2="682.5" y2="224.5" stroke="#d5d5d5" stroke-width="2.1"/>
<line x1="692" y1="168.5" x2="692" y2="224.5" stroke="#d5d5d5" stroke-width="2.1"/>
<line x1="702" y1="168.5" x2="702" y2="224.5" stroke="#d5d5d5" stroke-width="2.1"/>
<line x1="712" y1="168.5" x2="712" y2="224.5" stroke="#d5d5d5" stroke-width="2.1"/>
<line x1="722" y1="168.5" x2="722" y2="224.5" stroke="#d5d5d5" stroke-width="2.1"/>
<line x1="732" y1="168.5" x2="732" y2="224.5" stroke="#d5d5d5" stroke-width="2.1"/>
<line x1="742" y1="168.5" x2="742" y2="224.5" stroke="#d5d5d5" stroke-width="2.1"/>
<line x1="752" y1="168.5" x2="752" y2="224.5" stroke="#d5d5d5" stroke-width="2.1"/>
<line x1="762" y1="168.5" x2="762" y2="224.5" stroke="#d5d5d5" stroke-width="2.1"/>
<line x1="772" y1="168.5" x2="772" y2="224.5" stroke="#d5d5d5" stroke-width="2.1"/>
<line x1="782" y1="168.5" x2="782" y2="224.5" stroke="#d5d5d5" stroke-width="2.1"/>
<line x1="791.75" y1="168.5" x2="791.75" y2="224.5" stroke="#d5d5d5" stroke-width="2.1"/>
<line x1="41.5" y1="168.3" x2="889.5" y2="168.3" stroke="#666" stroke-width="1"/>
<line x1="889.5" y1="168.3" x2="889.5" y2="224.5" stroke="#777" stroke-width="0.9"/>
<line x1="41.5" y1="168.3" x2="41.5" y2="224.5" stroke="#707070" stroke-width="1"/>
<text x="38.9" y="182.4" font-family="'Liberation Sans', Arial, sans-serif" font-size="5.4" font-weight="normal" fill="#111" text-anchor="end">5700</text>
<line x1="39.9" y1="180.4" x2="41.5" y2="180.4" stroke="#555" stroke-width="0.8"/>
<text x="38.9" y="197.2" font-family="'Liberation Sans', Arial, sans-serif" font-size="5.4" font-weight="normal" fill="#111" text-anchor="end">3800</text>
<line x1="39.9" y1="195.2" x2="41.5" y2="195.2" stroke="#555" stroke-width="0.8"/>
<text x="38.9" y="211.7" font-family="'Liberation Sans', Arial, sans-serif" font-size="5.4" font-weight="normal" fill="#111" text-anchor="end">1900</text>
<line x1="39.9" y1="209.7" x2="41.5" y2="209.7" stroke="#555" stroke-width="0.8"/>
<text x="38.9" y="226.5" font-family="'Liberation Sans', Arial, sans-serif" font-size="5.4" font-weight="normal" fill="#111" text-anchor="end">0</text>
<line x1="39.9" y1="224.5" x2="41.5" y2="224.5" stroke="#555" stroke-width="0.8"/>
<line x1="40.5" y1="187.75" x2="41.5" y2="187.75" stroke="#777" stroke-width="0.7"/>
<line x1="40.5" y1="202.55" x2="41.5" y2="202.55" stroke="#777" stroke-width="0.7"/>
<line x1="40.5" y1="217.05" x2="41.5" y2="217.05" stroke="#777" stroke-width="0.7"/>
<line x1="40.5" y1="173.05" x2="41.5" y2="173.05" stroke="#777" stroke-width="0.7"/>
<line x1="157" y1="225" x2="157" y2="229.6" stroke="#8a8a8a" stroke-width="0.7"/>
<rect x="152.3" y="229.6" width="10.6" height="9.3" fill="#fff" stroke="#cdcdcd" stroke-width="0.8"/>
<text x="158" y="236.7" font-family="'Liberation Serif', 'Times New Roman', serif" font-size="7.4" font-weight="normal" fill="#000" text-anchor="middle" letter-spacing="0.2">13</text>
<line x1="304.25" y1="225" x2="304.25" y2="229.6" stroke="#8a8a8a" stroke-width="0.7"/>
<rect x="296.45" y="229.6" width="16.8" height="9.3" fill="#fff" stroke="#cdcdcd" stroke-width="0.8"/>
<text x="305.25" y="236.7" font-family="'Liberation Serif', 'Times New Roman', serif" font-size="7.4" font-weight="normal" fill="#000" text-anchor="middle" letter-spacing="0.2">33.2</text>
<line x1="400" y1="225" x2="400" y2="229.6" stroke="#8a8a8a" stroke-width="0.7"/>
<rect x="396.9" y="229.6" width="7.4" height="9.3" fill="#fff" stroke="#cdcdcd" stroke-width="0.8"/>
<text x="401" y="236.7" font-family="'Liberation Serif', 'Times New Roman', serif" font-size="7.4" font-weight="normal" fill="#000" text-anchor="middle" letter-spacing="0.2">9</text>
<line x1="423.5" y1="225" x2="423.5" y2="229.6" stroke="#8a8a8a" stroke-width="0.7"/>
<rect x="418.8" y="229.6" width="10.6" height="9.3" fill="#fff" stroke="#cdcdcd" stroke-width="0.8"/>
<text x="424.5" y="236.7" font-family="'Liberation Serif', 'Times New Roman', serif" font-size="7.4" font-weight="normal" fill="#000" text-anchor="middle" letter-spacing="0.2">12</text>
<line x1="530" y1="225" x2="530" y2="229.6" stroke="#8a8a8a" stroke-width="0.7"/>
<rect x="525.3" y="229.6" width="10.6" height="9.3" fill="#fff" stroke="#cdcdcd" stroke-width="0.8"/>
<text x="531" y="236.7" font-family="'Liberation Serif', 'Times New Roman', serif" font-size="7.4" font-weight="normal" fill="#000" text-anchor="middle" letter-spacing="0.2">17</text>
<line x1="712.5" y1="225" x2="712.5" y2="229.6" stroke="#8a8a8a" stroke-width="0.7"/>
<rect x="707.8" y="229.6" width="10.6" height="9.3" fill="#fff" stroke="#cdcdcd" stroke-width="0.8"/>
<text x="713.5" y="236.7" font-family="'Liberation Serif', 'Times New Roman', serif" font-size="7.4" font-weight="normal" fill="#000" text-anchor="middle" letter-spacing="0.2">10</text>
<line x1="732.75" y1="225" x2="732.75" y2="229.6" stroke="#8a8a8a" stroke-width="0.7"/>
<rect x="728.05" y="229.6" width="10.6" height="9.3" fill="#fff" stroke="#cdcdcd" stroke-width="0.8"/>
<text x="733.75" y="236.7" font-family="'Liberation Serif', 'Times New Roman', serif" font-size="7.4" font-weight="normal" fill="#000" text-anchor="middle" letter-spacing="0.2">12</text>
<path d="M152.6 224.3 C154.95 224.3 155.25 221.97 155.25 218.48 L155.9 207 Q157 204.8 158.1 207 L158.75 218.48 C158.75 221.97 159.05 224.3 161.4 224.3 Z" fill="#b2e0b2"/>
<path d="M299.09 224.3 C302.15 224.3 302.45 223.09 302.45 221.29 L303.15 218.25 Q304.25 216.05 305.35 218.25 L306.05 221.29 C306.05 223.09 306.35 224.3 309.41 224.3 Z" fill="#b2e0b2"/>
<path d="M395.6 224.3 C397.95 224.3 398.25 222.27 398.25 219.23 L398.9 210 Q400 207.8 401.1 210 L401.75 219.23 C401.75 222.27 402.05 224.3 404.4 224.3 Z" fill="#b2e0b2"/>
<path d="M418.34 224.3 C421.4 224.3 421.7 222.67 421.7 220.23 L422.4 214 Q423.5 211.8 424.6 214 L425.3 220.23 C425.3 222.67 425.6 224.3 428.66 224.3 Z" fill="#b2e0b2"/>
<path d="M525.6 224.3 C527.95 224.3 528.25 222.42 528.25 219.6 L528.9 211.5 Q530 209.3 531.1 211.5 L531.75 219.6 C531.75 222.42 532.05 224.3 534.4 224.3 Z" fill="#b2e0b2"/>
<path d="M707.34 224.3 C710.4 224.3 710.7 222.3 710.7 219.29 L711.4 210.25 Q712.5 208.05 713.6 210.25 L714.3 219.29 C714.3 222.3 714.6 224.3 717.66 224.3 Z" fill="#b2e0b2"/>
<path d="M726.45 224.3 C730.58 224.3 730.88 220.7 730.88 215.3 L731.65 192 Q732.75 189.8 733.85 192 L734.62 215.3 C734.62 220.7 734.92 224.3 739.05 224.3 Z" fill="#b2e0b2"/>
<line x1="41.5" y1="224.5" x2="889.5" y2="224.5" stroke="#5aa85a" stroke-width="1.6"/>
<path d="M154.4 224.3 C156.05 224.3 156.35 221.97 156.35 218.48 L156.5 206.6 Q157 204.4 157.5 206.6 L157.65 218.48 C157.65 221.97 157.95 224.3 159.6 224.3 Z" fill="#449a44"/>
<path d="M301.13 224.3 C303.28 224.3 303.58 223.09 303.58 221.29 L303.75 217.85 Q304.25 215.65 304.75 217.85 L304.92 221.29 C304.92 223.09 305.22 224.3 307.37 224.3 Z" fill="#449a44"/>
<path d="M397.4 224.3 C399.05 224.3 399.35 222.27 399.35 219.23 L399.5 209.6 Q400 207.4 400.5 209.6 L400.65 219.23 C400.65 222.27 400.95 224.3 402.6 224.3 Z" fill="#449a44"/>
<path d="M420.38 224.3 C422.53 224.3 422.83 222.67 422.83 220.23 L423 213.6 Q423.5 211.4 424 213.6 L424.17 220.23 C424.17 222.67 424.47 224.3 426.62 224.3 Z" fill="#449a44"/>
<path d="M527.4 224.3 C529.05 224.3 529.35 222.42 529.35 219.6 L529.5 211.1 Q530 208.9 530.5 211.1 L530.65 219.6 C530.65 222.42 530.95 224.3 532.6 224.3 Z" fill="#449a44"/>
<path d="M709.38 224.3 C711.53 224.3 711.83 222.3 711.83 219.29 L712 209.85 Q712.5 207.65 713 209.85 L713.17 219.29 C713.17 222.3 713.47 224.3 715.62 224.3 Z" fill="#449a44"/>
<path d="M728.85 224.3 C731.75 224.3 732.05 220.7 732.05 215.3 L732.25 191.6 Q732.75 189.4 733.25 191.6 L733.45 215.3 C733.45 220.7 733.75 224.3 736.65 224.3 Z" fill="#449a44"/>
<rect x="7.6" y="250" width="888.2" height="116.4" fill="none" stroke="#9a9a9a" stroke-width="1"/>
<line x1="7.6" y1="250" x2="895.8" y2="250" stroke="#666" stroke-width="1.3"/>
<line x1="7.6" y1="257.6" x2="895.8" y2="257.6" stroke="#5a5a5a" stroke-width="1.3"/>
<line x1="620.8" y1="250.8" x2="620.8" y2="256.8" stroke="#ddd" stroke-width="0.8"/>
<line x1="758.6" y1="250.8" x2="758.6" y2="256.8" stroke="#ddd" stroke-width="0.8"/>
<text x="10" y="256.6" font-family="'Liberation Sans', Arial, sans-serif" font-size="6.3" font-weight="normal" fill="#000" text-anchor="start">08_H01_CellLineAuthentication-1-0927.fsa</text>
<text x="259.3" y="256.6" font-family="'Liberation Sans', Arial, sans-serif" font-size="6.2" font-weight="normal" fill="#000" text-anchor="start">H22</text>
<text x="424.4" y="256.6" font-family="'Liberation Sans', Arial, sans-serif" font-size="6.2" font-weight="normal" fill="#000" text-anchor="start">21Plex_STR_Panel_v1.1</text>
<rect x="686.6" y="251.1" width="5.4" height="5.4" fill="#27b327"/>
<rect x="824.3" y="251.1" width="5.4" height="5.4" fill="#27b327"/>
<rect x="62" y="261.7" width="113.1" height="6.8" fill="#c4c4c4" stroke="#8e8e8e" stroke-width="1"/>
<text x="118.55" y="266.9" font-family="'Liberation Sans', Arial, sans-serif" font-size="6.4" font-weight="normal" fill="#111" text-anchor="middle">D19S433</text>
<rect x="186" y="261.7" width="88.7" height="6.8" fill="#c4c4c4" stroke="#8e8e8e" stroke-width="1"/>
<text x="230.35" y="266.9" font-family="'Liberation Sans', Arial, sans-serif" font-size="6.4" font-weight="normal" fill="#111" text-anchor="middle">TH01</text>
<rect x="278.5" y="261.7" width="97.7" height="6.8" fill="#c4c4c4" stroke="#8e8e8e" stroke-width="1"/>
<text x="327.35" y="266.9" font-family="'Liberation Sans', Arial, sans-serif" font-size="6.4" font-weight="normal" fill="#111" text-anchor="middle">D13S317</text>
<rect x="380.3" y="261.7" width="99.1" height="6.8" fill="#c4c4c4" stroke="#8e8e8e" stroke-width="1"/>
<text x="429.85" y="266.9" font-family="'Liberation Sans', Arial, sans-serif" font-size="6.4" font-weight="normal" fill="#111" text-anchor="middle">TPOX</text>
<rect x="487.7" y="261.7" width="167.7" height="6.8" fill="#c4c4c4" stroke="#8e8e8e" stroke-width="1"/>
<text x="571.55" y="266.9" font-family="'Liberation Sans', Arial, sans-serif" font-size="6.4" font-weight="normal" fill="#111" text-anchor="middle">D18S51</text>
<rect x="657.7" y="261.7" width="146" height="6.8" fill="#c4c4c4" stroke="#8e8e8e" stroke-width="1"/>
<text x="730.7" y="266.9" font-family="'Liberation Sans', Arial, sans-serif" font-size="6.4" font-weight="normal" fill="#111" text-anchor="middle">D6S1043</text>
<text x="41.5" y="276.8" font-family="'Liberation Sans', Arial, sans-serif" font-size="5.6" font-weight="normal" fill="#111" text-anchor="middle">80</text>
<line x1="80.32" y1="278.1" x2="80.32" y2="279.9" stroke="#bbb" stroke-width="0.7"/>
<text x="119.14" y="276.8" font-family="'Liberation Sans', Arial, sans-serif" font-size="5.6" font-weight="normal" fill="#111" text-anchor="middle">120</text>
<line x1="119.14" y1="278.1" x2="119.14" y2="279.9" stroke="#bbb" stroke-width="0.7"/>
<line x1="157.96" y1="278.1" x2="157.96" y2="279.9" stroke="#bbb" stroke-width="0.7"/>
<text x="196.78" y="276.8" font-family="'Liberation Sans', Arial, sans-serif" font-size="5.6" font-weight="normal" fill="#111" text-anchor="middle">160</text>
<line x1="196.78" y1="278.1" x2="196.78" y2="279.9" stroke="#bbb" stroke-width="0.7"/>
<line x1="235.6" y1="278.1" x2="235.6" y2="279.9" stroke="#bbb" stroke-width="0.7"/>
<text x="274.42" y="276.8" font-family="'Liberation Sans', Arial, sans-serif" font-size="5.6" font-weight="normal" fill="#111" text-anchor="middle">200</text>
<line x1="274.42" y1="278.1" x2="274.42" y2="279.9" stroke="#bbb" stroke-width="0.7"/>
<line x1="313.24" y1="278.1" x2="313.24" y2="279.9" stroke="#bbb" stroke-width="0.7"/>
<text x="352.06" y="276.8" font-family="'Liberation Sans', Arial, sans-serif" font-size="5.6" font-weight="normal" fill="#111" text-anchor="middle">240</text>
<line x1="352.06" y1="278.1" x2="352.06" y2="279.9" stroke="#bbb" stroke-width="0.7"/>
<line x1="390.88" y1="278.1" x2="390.88" y2="279.9" stroke="#bbb" stroke-width="0.7"/>
<text x="429.7" y="276.8" font-family="'Liberation Sans', Arial, sans-serif" font-size="5.6" font-weight="normal" fill="#111" text-anchor="middle">280</text>
<line x1="429.7" y1="278.1" x2="429.7" y2="279.9" stroke="#bbb" stroke-width="0.7"/>
<line x1="468.52" y1="278.1" x2="468.52" y2="279.9" stroke="#bbb" stroke-width="0.7"/>
<text x="507.34" y="276.8" font-family="'Liberation Sans', Arial, sans-serif" font-size="5.6" font-weight="normal" fill="#111" text-anchor="middle">320</text>
<line x1="507.34" y1="278.1" x2="507.34" y2="279.9" stroke="#bbb" stroke-width="0.7"/>
<line x1="546.16" y1="278.1" x2="546.16" y2="279.9" stroke="#bbb" stroke-width="0.7"/>
<text x="584.98" y="276.8" font-family="'Liberation Sans', Arial, sans-serif" font-size="5.6" font-weight="normal" fill="#111" text-anchor="middle">360</text>
<line x1="584.98" y1="278.1" x2="584.98" y2="279.9" stroke="#bbb" stroke-width="0.7"/>
<line x1="623.8" y1="278.1" x2="623.8" y2="279.9" stroke="#bbb" stroke-width="0.7"/>
<text x="662.62" y="276.8" font-family="'Liberation Sans', Arial, sans-serif" font-size="5.6" font-weight="normal" fill="#111" text-anchor="middle">400</text>
<line x1="662.62" y1="278.1" x2="662.62" y2="279.9" stroke="#bbb" stroke-width="0.7"/>
<line x1="701.44" y1="278.1" x2="701.44" y2="279.9" stroke="#bbb" stroke-width="0.7"/>
<text x="740.26" y="276.8" font-family="'Liberation Sans', Arial, sans-serif" font-size="5.6" font-weight="normal" fill="#111" text-anchor="middle">440</text>
<line x1="740.26" y1="278.1" x2="740.26" y2="279.9" stroke="#bbb" stroke-width="0.7"/>
<line x1="779.08" y1="278.1" x2="779.08" y2="279.9" stroke="#bbb" stroke-width="0.7"/>
<text x="817.9" y="276.8" font-family="'Liberation Sans', Arial, sans-serif" font-size="5.6" font-weight="normal" fill="#111" text-anchor="middle">480</text>
<line x1="817.9" y1="278.1" x2="817.9" y2="279.9" stroke="#bbb" stroke-width="0.7"/>
<line x1="856.72" y1="278.1" x2="856.72" y2="279.9" stroke="#bbb" stroke-width="0.7"/>
<line x1="75.4" y1="279.5" x2="75.4" y2="336" stroke="#d5d5d5" stroke-width="2.1"/>
<line x1="83.5" y1="279.5" x2="83.5" y2="336" stroke="#d5d5d5" stroke-width="2.1"/>
<line x1="91" y1="279.5" x2="91" y2="336" stroke="#d5d5d5" stroke-width="2.1"/>
<line x1="95" y1="279.5" x2="95" y2="336" stroke="#d5d5d5" stroke-width="2.1"/>
<line x1="98.8" y1="279.5" x2="98.8" y2="336" stroke="#d5d5d5" stroke-width="2.1"/>
<line x1="102.6" y1="279.5" x2="102.6" y2="336" stroke="#d5d5d5" stroke-width="2.1"/>
<line x1="106.6" y1="279.5" x2="106.6" y2="336" stroke="#d5d5d5" stroke-width="2.1"/>
<line x1="114.4" y1="279.5" x2="114.4" y2="336" stroke="#d5d5d5" stroke-width="2.1"/>
<line x1="118.2" y1="279.5" x2="118.2" y2="336" stroke="#d5d5d5" stroke-width="2.1"/>
<line x1="122.2" y1="279.5" x2="122.2" y2="336" stroke="#d5d5d5" stroke-width="2.1"/>
<line x1="125.9" y1="279.5" x2="125.9" y2="336" stroke="#d5d5d5" stroke-width="2.1"/>
<line x1="130" y1="279.5" x2="130" y2="336" stroke="#d5d5d5" stroke-width="2.1"/>
<line x1="133.5" y1="279.5" x2="133.5" y2="336" stroke="#d5d5d5" stroke-width="2.1"/>
<line x1="137.5" y1="279.5" x2="137.5" y2="336" stroke="#d5d5d5" stroke-width="2.1"/>
<line x1="141.3" y1="279.5" x2="141.3" y2="336" stroke="#d5d5d5" stroke-width="2.1"/>
<line x1="145.3" y1="279.5" x2="145.3" y2="336" stroke="#d5d5d5" stroke-width="2.1"/>
<line x1="149.3" y1="279.5" x2="149.3" y2="336" stroke="#d5d5d5" stroke-width="2.1"/>
<line x1="153.1" y1="279.5" x2="153.1" y2="336" stroke="#d5d5d5" stroke-width="2.1"/>
<line x1="156.9" y1="279.5" x2="156.9" y2="336" stroke="#d5d5d5" stroke-width="2.1"/>
<line x1="164.7" y1="279.5" x2="164.7" y2="336" stroke="#d5d5d5" stroke-width="2.1"/>
<line x1="168.7" y1="279.5" x2="168.7" y2="336" stroke="#d5d5d5" stroke-width="2.1"/>
<line x1="172.5" y1="279.5" x2="172.5" y2="336" stroke="#d5d5d5" stroke-width="2.1"/>
<line x1="189.7" y1="279.5" x2="189.7" y2="336" stroke="#d5d5d5" stroke-width="2.1"/>
<line x1="197.7" y1="279.5" x2="197.7" y2="336" stroke="#d5d5d5" stroke-width="2.1"/>
<line x1="205.4" y1="279.5" x2="205.4" y2="336" stroke="#d5d5d5" stroke-width="2.1"/>
<line x1="213.3" y1="279.5" x2="213.3" y2="336" stroke="#d5d5d5" stroke-width="2.1"/>
<line x1="221.1" y1="279.5" x2="221.1" y2="336" stroke="#d5d5d5" stroke-width="2.1"/>
<line x1="228.6" y1="279.5" x2="228.6" y2="336" stroke="#d5d5d5" stroke-width="2.1"/>
<line x1="235.9" y1="279.5" x2="235.9" y2="336" stroke="#d5d5d5" stroke-width="2.1"/>
<line x1="242.9" y1="279.5" x2="242.9" y2="336" stroke="#d5d5d5" stroke-width="2.1"/>
<line x1="250.9" y1="279.5" x2="250.9" y2="336" stroke="#d5d5d5" stroke-width="2.1"/>
<line x1="258.7" y1="279.5" x2="258.7" y2="336" stroke="#d5d5d5" stroke-width="2.1"/>
<line x1="266.8" y1="279.5" x2="266.8" y2="336" stroke="#d5d5d5" stroke-width="2.1"/>
<line x1="272.6" y1="279.5" x2="272.6" y2="336" stroke="#d5d5d5" stroke-width="2.1"/>
<line x1="280.6" y1="279.5" x2="280.6" y2="336" stroke="#d5d5d5" stroke-width="2.1"/>
<line x1="288.1" y1="279.5" x2="288.1" y2="336" stroke="#d5d5d5" stroke-width="2.1"/>
<line x1="296.2" y1="279.5" x2="296.2" y2="336" stroke="#d5d5d5" stroke-width="2.1"/>
<line x1="304" y1="279.5" x2="304" y2="336" stroke="#d5d5d5" stroke-width="2.1"/>
<line x1="311.5" y1="279.5" x2="311.5" y2="336" stroke="#d5d5d5" stroke-width="2.1"/>
<line x1="319.6" y1="279.5" x2="319.6" y2="336" stroke="#d5d5d5" stroke-width="2.1"/>
<line x1="327.4" y1="279.5" x2="327.4" y2="336" stroke="#d5d5d5" stroke-width="2.1"/>
<line x1="335.2" y1="279.5" x2="335.2" y2="336" stroke="#d5d5d5" stroke-width="2.1"/>
<line x1="343" y1="279.5" x2="343" y2="336" stroke="#d5d5d5" stroke-width="2.1"/>
<line x1="350.5" y1="279.5" x2="350.5" y2="336" stroke="#d5d5d5" stroke-width="2.1"/>
<line x1="357.9" y1="279.5" x2="357.9" y2="336" stroke="#d5d5d5" stroke-width="2.1"/>
<line x1="365.8" y1="279.5" x2="365.8" y2="336" stroke="#d5d5d5" stroke-width="2.1"/>
<line x1="373.2" y1="279.5" x2="373.2" y2="336" stroke="#d5d5d5" stroke-width="2.1"/>
<line x1="383.6" y1="279.5" x2="383.6" y2="336" stroke="#d5d5d5" stroke-width="2.1"/>
<line x1="391.3" y1="279.5" x2="391.3" y2="336" stroke="#d5d5d5" stroke-width="2.1"/>
<line x1="399.1" y1="279.5" x2="399.1" y2="336" stroke="#d5d5d5" stroke-width="2.1"/>
<line x1="406.8" y1="279.5" x2="406.8" y2="336" stroke="#d5d5d5" stroke-width="2.1"/>
<line x1="414.5" y1="279.5" x2="414.5" y2="336" stroke="#d5d5d5" stroke-width="2.1"/>
<line x1="422.7" y1="279.5" x2="422.7" y2="336" stroke="#d5d5d5" stroke-width="2.1"/>
<line x1="430.3" y1="279.5" x2="430.3" y2="336" stroke="#d5d5d5" stroke-width="2.1"/>
<line x1="438.3" y1="279.5" x2="438.3" y2="336" stroke="#d5d5d5" stroke-width="2.1"/>
<line x1="446.1" y1="279.5" x2="446.1" y2="336" stroke="#d5d5d5" stroke-width="2.1"/>
<line x1="453.7" y1="279.5" x2="453.7" y2="336" stroke="#d5d5d5" stroke-width="2.1"/>
<line x1="461.7" y1="279.5" x2="461.7" y2="336" stroke="#d5d5d5" stroke-width="2.1"/>
<line x1="469.5" y1="279.5" x2="469.5" y2="336" stroke="#d5d5d5" stroke-width="2.1"/>
<line x1="477.3" y1="279.5" x2="477.3" y2="336" stroke="#d5d5d5" stroke-width="2.1"/>
<line x1="489.6" y1="279.5" x2="489.6" y2="336" stroke="#d5d5d5" stroke-width="2.1"/>
<line x1="497.6" y1="279.5" x2="497.6" y2="336" stroke="#d5d5d5" stroke-width="2.1"/>
<line x1="505.7" y1="279.5" x2="505.7" y2="336" stroke="#d5d5d5" stroke-width="2.1"/>
<line x1="509.58" y1="279.5" x2="509.58" y2="336" stroke="#d5d5d5" stroke-width="2.1"/>
<line x1="513.46" y1="279.5" x2="513.46" y2="336" stroke="#d5d5d5" stroke-width="2.1"/>
<line x1="517.34" y1="279.5" x2="517.34" y2="336" stroke="#d5d5d5" stroke-width="2.1"/>
<line x1="521.22" y1="279.5" x2="521.22" y2="336" stroke="#d5d5d5" stroke-width="2.1"/>
<line x1="525.1" y1="279.5" x2="525.1" y2="336" stroke="#d5d5d5" stroke-width="2.1"/>
<line x1="528.98" y1="279.5" x2="528.98" y2="336" stroke="#d5d5d5" stroke-width="2.1"/>
<line x1="532.86" y1="279.5" x2="532.86" y2="336" stroke="#d5d5d5" stroke-width="2.1"/>
<line x1="536.74" y1="279.5" x2="536.74" y2="336" stroke="#d5d5d5" stroke-width="2.1"/>
<line x1="540.62" y1="279.5" x2="540.62" y2="336" stroke="#d5d5d5" stroke-width="2.1"/>
<line x1="544.5" y1="279.5" x2="544.5" y2="336" stroke="#d5d5d5" stroke-width="2.1"/>
<line x1="548.38" y1="279.5" x2="548.38" y2="336" stroke="#d5d5d5" stroke-width="2.1"/>
<line x1="552.26" y1="279.5" x2="552.26" y2="336" stroke="#d5d5d5" stroke-width="2.1"/>
<line x1="556.14" y1="279.5" x2="556.14" y2="336" stroke="#d5d5d5" stroke-width="2.1"/>
<line x1="560.02" y1="279.5" x2="560.02" y2="336" stroke="#d5d5d5" stroke-width="2.1"/>
<line x1="563.9" y1="279.5" x2="563.9" y2="336" stroke="#d5d5d5" stroke-width="2.1"/>
<line x1="567.78" y1="279.5" x2="567.78" y2="336" stroke="#d5d5d5" stroke-width="2.1"/>
<line x1="571.66" y1="279.5" x2="571.66" y2="336" stroke="#d5d5d5" stroke-width="2.1"/>
<line x1="575.54" y1="279.5" x2="575.54" y2="336" stroke="#d5d5d5" stroke-width="2.1"/>
<line x1="579.42" y1="279.5" x2="579.42" y2="336" stroke="#d5d5d5" stroke-width="2.1"/>
<line x1="583.3" y1="279.5" x2="583.3" y2="336" stroke="#d5d5d5" stroke-width="2.1"/>
<line x1="587.18" y1="279.5" x2="587.18" y2="336" stroke="#d5d5d5" stroke-width="2.1"/>
<line x1="591.06" y1="279.5" x2="591.06" y2="336" stroke="#d5d5d5" stroke-width="2.1"/>
<line x1="594.94" y1="279.5" x2="594.94" y2="336" stroke="#d5d5d5" stroke-width="2.1"/>
<line x1="598.82" y1="279.5" x2="598.82" y2="336" stroke="#d5d5d5" stroke-width="2.1"/>
<line x1="602.7" y1="279.5" x2="602.7" y2="336" stroke="#d5d5d5" stroke-width="2.1"/>
<line x1="606.58" y1="279.5" x2="606.58" y2="336" stroke="#d5d5d5" stroke-width="2.1"/>
<line x1="610.46" y1="279.5" x2="610.46" y2="336" stroke="#d5d5d5" stroke-width="2.1"/>
<line x1="614.34" y1="279.5" x2="614.34" y2="336" stroke="#d5d5d5" stroke-width="2.1"/>
<line x1="618.22" y1="279.5" x2="618.22" y2="336" stroke="#d5d5d5" stroke-width="2.1"/>
<line x1="622.1" y1="279.5" x2="622.1" y2="336" stroke="#d5d5d5" stroke-width="2.1"/>
<line x1="630.2" y1="279.5" x2="630.2" y2="336" stroke="#d5d5d5" stroke-width="2.1"/>
<line x1="637.7" y1="279.5" x2="637.7" y2="336" stroke="#d5d5d5" stroke-width="2.1"/>
<line x1="645.3" y1="279.5" x2="645.3" y2="336" stroke="#d5d5d5" stroke-width="2.1"/>
<line x1="652.8" y1="279.5" x2="652.8" y2="336" stroke="#d5d5d5" stroke-width="2.1"/>
<line x1="660.9" y1="279.5" x2="660.9" y2="336" stroke="#d5d5d5" stroke-width="2.1"/>
<line x1="668.4" y1="279.5" x2="668.4" y2="336" stroke="#d5d5d5" stroke-width="2.1"/>
<line x1="675.9" y1="279.5" x2="675.9" y2="336" stroke="#d5d5d5" stroke-width="2.1"/>
<line x1="684" y1="279.5" x2="684" y2="336" stroke="#d5d5d5" stroke-width="2.1"/>
<line x1="691.8" y1="279.5" x2="691.8" y2="336" stroke="#d5d5d5" stroke-width="2.1"/>
<line x1="699.3" y1="279.5" x2="699.3" y2="336" stroke="#d5d5d5" stroke-width="2.1"/>
<line x1="707.1" y1="279.5" x2="707.1" y2="336" stroke="#d5d5d5" stroke-width="2.1"/>
<line x1="714.9" y1="279.5" x2="714.9" y2="336" stroke="#d5d5d5" stroke-width="2.1"/>
<line x1="722.7" y1="279.5" x2="722.7" y2="336" stroke="#d5d5d5" stroke-width="2.1"/>
<line x1="730.2" y1="279.5" x2="730.2" y2="336" stroke="#d5d5d5" stroke-width="2.1"/>
<line x1="738" y1="279.5" x2="738" y2="336" stroke="#d5d5d5" stroke-width="2.1"/>
<line x1="745.8" y1="279.5" x2="745.8" y2="336" stroke="#d5d5d5" stroke-width="2.1"/>
<line x1="753.6" y1="279.5" x2="753.6" y2="336" stroke="#d5d5d5" stroke-width="2.1"/>
<line x1="761.4" y1="279.5" x2="761.4" y2="336" stroke="#d5d5d5" stroke-width="2.1"/>
<line x1="769.2" y1="279.5" x2="769.2" y2="336" stroke="#d5d5d5" stroke-width="2.1"/>
<line x1="775.5" y1="279.5" x2="775.5" y2="336" stroke="#d5d5d5" stroke-width="2.1"/>
<line x1="777" y1="279.5" x2="777" y2="336" stroke="#d5d5d5" stroke-width="2.1"/>
<line x1="784.3" y1="279.5" x2="784.3" y2="336" stroke="#d5d5d5" stroke-width="2.1"/>
<line x1="41.5" y1="279.3" x2="889.5" y2="279.3" stroke="#999" stroke-width="1"/>
<line x1="889.5" y1="279.3" x2="889.5" y2="336" stroke="#777" stroke-width="0.9"/>
<line x1="41.5" y1="279.3" x2="41.5" y2="336" stroke="#707070" stroke-width="1"/>
<text x="38.9" y="294" font-family="'Liberation Sans', Arial, sans-serif" font-size="5.4" font-weight="normal" fill="#111" text-anchor="end">3900</text>
<line x1="39.9" y1="292" x2="41.5" y2="292" stroke="#555" stroke-width="0.8"/>
<text x="38.9" y="308.6" font-family="'Liberation Sans', Arial, sans-serif" font-size="5.4" font-weight="normal" fill="#111" text-anchor="end">2600</text>
<line x1="39.9" y1="306.6" x2="41.5" y2="306.6" stroke="#555" stroke-width="0.8"/>
<text x="38.9" y="323.2" font-family="'Liberation Sans', Arial, sans-serif" font-size="5.4" font-weight="normal" fill="#111" text-anchor="end">1300</text>
<line x1="39.9" y1="321.2" x2="41.5" y2="321.2" stroke="#555" stroke-width="0.8"/>
<text x="38.9" y="338" font-family="'Liberation Sans', Arial, sans-serif" font-size="5.4" font-weight="normal" fill="#111" text-anchor="end">0</text>
<line x1="39.9" y1="336" x2="41.5" y2="336" stroke="#555" stroke-width="0.8"/>
<line x1="40.5" y1="299.33" x2="41.5" y2="299.33" stroke="#777" stroke-width="0.7"/>
<line x1="40.5" y1="313.93" x2="41.5" y2="313.93" stroke="#777" stroke-width="0.7"/>
<line x1="40.5" y1="328.53" x2="41.5" y2="328.53" stroke="#777" stroke-width="0.7"/>
<line x1="40.5" y1="284.67" x2="41.5" y2="284.67" stroke="#777" stroke-width="0.7"/>
<line x1="129.7" y1="336.5" x2="129.7" y2="341.8" stroke="#8a8a8a" stroke-width="0.7"/>
<rect x="125" y="341.8" width="10.6" height="9" fill="#fff" stroke="#cdcdcd" stroke-width="0.8"/>
<text x="130.7" y="348.6" font-family="'Liberation Serif', 'Times New Roman', serif" font-size="7.4" font-weight="normal" fill="#000" text-anchor="middle" letter-spacing="0.2">14</text>
<line x1="221.3" y1="336.5" x2="221.3" y2="341.8" stroke="#8a8a8a" stroke-width="0.7"/>
<rect x="218.2" y="341.8" width="7.4" height="9" fill="#fff" stroke="#cdcdcd" stroke-width="0.8"/>
<text x="222.3" y="348.6" font-family="'Liberation Serif', 'Times New Roman', serif" font-size="7.4" font-weight="normal" fill="#000" text-anchor="middle" letter-spacing="0.2">7</text>
<line x1="242.1" y1="336.5" x2="242.1" y2="341.8" stroke="#8a8a8a" stroke-width="0.7"/>
<rect x="236.4" y="341.8" width="12.6" height="9" fill="#fff" stroke="#cdcdcd" stroke-width="0.8"/>
<text x="243.1" y="348.6" font-family="'Liberation Serif', 'Times New Roman', serif" font-size="7.4" font-weight="normal" fill="#000" text-anchor="middle" letter-spacing="0.2">9.3</text>
<line x1="319.8" y1="336.5" x2="319.8" y2="341.8" stroke="#8a8a8a" stroke-width="0.7"/>
<rect x="315.1" y="341.8" width="10.6" height="9" fill="#fff" stroke="#cdcdcd" stroke-width="0.8"/>
<text x="320.8" y="348.6" font-family="'Liberation Serif', 'Times New Roman', serif" font-size="7.4" font-weight="normal" fill="#000" text-anchor="middle" letter-spacing="0.2">10</text>
<line x1="422.7" y1="336.5" x2="422.7" y2="341.8" stroke="#8a8a8a" stroke-width="0.7"/>
<rect x="419.6" y="341.8" width="7.4" height="9" fill="#fff" stroke="#cdcdcd" stroke-width="0.8"/>
<text x="423.7" y="348.6" font-family="'Liberation Serif', 'Times New Roman', serif" font-size="7.4" font-weight="normal" fill="#000" text-anchor="middle" letter-spacing="0.2">9</text>
<line x1="584.4" y1="336.5" x2="584.4" y2="341.8" stroke="#8a8a8a" stroke-width="0.7"/>
<rect x="579.7" y="341.8" width="10.6" height="9" fill="#fff" stroke="#cdcdcd" stroke-width="0.8"/>
<text x="585.4" y="348.6" font-family="'Liberation Serif', 'Times New Roman', serif" font-size="7.4" font-weight="normal" fill="#000" text-anchor="middle" letter-spacing="0.2">19</text>
<line x1="699.3" y1="336.5" x2="699.3" y2="341.8" stroke="#8a8a8a" stroke-width="0.7"/>
<rect x="694.6" y="341.8" width="10.6" height="9" fill="#fff" stroke="#cdcdcd" stroke-width="0.8"/>
<text x="700.3" y="348.6" font-family="'Liberation Serif', 'Times New Roman', serif" font-size="7.4" font-weight="normal" fill="#000" text-anchor="middle" letter-spacing="0.2">12</text>
<line x1="707.1" y1="336.5" x2="707.1" y2="353.6" stroke="#8a8a8a" stroke-width="0.7"/>
<rect x="702.4" y="353.6" width="10.6" height="9.5" fill="#fff" stroke="#cdcdcd" stroke-width="0.8"/>
<text x="708.1" y="360.9" font-family="'Liberation Serif', 'Times New Roman', serif" font-size="7.4" font-weight="normal" fill="#000" text-anchor="middle" letter-spacing="0.2">13</text>
<path d="M125.3 335.8 C127.65 335.8 127.95 332.2 127.95 326.8 L128.6 305.6 Q129.7 303.4 130.8 305.6 L131.45 326.8 C131.45 332.2 131.75 335.8 134.1 335.8 Z" fill="#b8b8b8"/>
<path d="M216.9 335.8 C219.25 335.8 219.55 334.87 219.55 333.48 L220.2 332.5 Q221.3 330.3 222.4 332.5 L223.05 333.48 C223.05 334.87 223.35 335.8 225.7 335.8 Z" fill="#b8b8b8"/>
<path d="M237.7 335.8 C240.05 335.8 240.35 334.92 240.35 333.6 L241 333 Q242.1 330.8 243.2 333 L243.85 333.6 C243.85 334.92 244.15 335.8 246.5 335.8 Z" fill="#b8b8b8"/>
<path d="M315.02 335.8 C317.73 335.8 318.03 332.2 318.03 326.8 L318.7 289.7 Q319.8 287.5 320.9 289.7 L321.57 326.8 C321.57 332.2 321.88 335.8 324.58 335.8 Z" fill="#b8b8b8"/>
<path d="M418.3 335.8 C420.65 335.8 420.95 334.11 420.95 331.57 L421.6 324.9 Q422.7 322.7 423.8 324.9 L424.45 331.57 C424.45 334.11 424.75 335.8 427.1 335.8 Z" fill="#b8b8b8"/>
<path d="M426.66 335.8 C428.3 335.8 428.6 335.07 428.6 333.98 L429.2 334.5 Q430.3 332.3 431.4 334.5 L432 333.98 C432 335.07 432.3 335.8 433.94 335.8 Z" fill="#b8b8b8"/>
<path d="M580 335.8 C582.35 335.8 582.65 333.43 582.65 329.88 L583.3 318.1 Q584.4 315.9 585.5 318.1 L586.15 329.88 C586.15 333.43 586.45 335.8 588.8 335.8 Z" fill="#b8b8b8"/>
<path d="M694.9 335.8 C697.25 335.8 697.55 333.23 697.55 329.38 L698.2 316.1 Q699.3 313.9 700.4 316.1 L701.05 329.38 C701.05 333.23 701.35 335.8 703.7 335.8 Z" fill="#b8b8b8"/>
<path d="M702.7 335.8 C705.05 335.8 705.35 333.27 705.35 329.48 L706 316.5 Q707.1 314.3 708.2 316.5 L708.85 329.48 C708.85 333.27 709.15 335.8 711.5 335.8 Z" fill="#b8b8b8"/>
<line x1="41.5" y1="336" x2="889.5" y2="336" stroke="#4c4c4c" stroke-width="1.3"/>
<path d="M127.1 335.8 C128.75 335.8 129.05 332.2 129.05 326.8 L129.2 305.2 Q129.7 303 130.2 305.2 L130.35 326.8 C130.35 332.2 130.65 335.8 132.3 335.8 Z" fill="#262626"/>
<path d="M218.7 335.8 C220.35 335.8 220.65 334.87 220.65 333.48 L220.8 332.1 Q221.3 329.9 221.8 332.1 L221.95 333.48 C221.95 334.87 222.25 335.8 223.9 335.8 Z" fill="#262626"/>
<path d="M239.5 335.8 C241.15 335.8 241.45 334.92 241.45 333.6 L241.6 332.6 Q242.1 330.4 242.6 332.6 L242.75 333.6 C242.75 334.92 243.05 335.8 244.7 335.8 Z" fill="#262626"/>
<path d="M316.94 335.8 C318.84 335.8 319.14 332.2 319.14 326.8 L319.3 289.3 Q319.8 287.1 320.3 289.3 L320.46 326.8 C320.46 332.2 320.76 335.8 322.66 335.8 Z" fill="#262626"/>
<path d="M420.1 335.8 C421.75 335.8 422.05 334.11 422.05 331.57 L422.2 324.5 Q422.7 322.3 423.2 324.5 L423.35 331.57 C423.35 334.11 423.65 335.8 425.3 335.8 Z" fill="#262626"/>
<path d="M428.22 335.8 C429.37 335.8 429.67 335.07 429.67 333.98 L429.8 334.1 Q430.3 331.9 430.8 334.1 L430.93 333.98 C430.93 335.07 431.23 335.8 432.38 335.8 Z" fill="#262626"/>
<path d="M581.8 335.8 C583.45 335.8 583.75 333.43 583.75 329.88 L583.9 317.7 Q584.4 315.5 584.9 317.7 L585.05 329.88 C585.05 333.43 585.35 335.8 587 335.8 Z" fill="#262626"/>
<path d="M696.7 335.8 C698.35 335.8 698.65 333.23 698.65 329.38 L698.8 315.7 Q699.3 313.5 699.8 315.7 L699.95 329.38 C699.95 333.23 700.25 335.8 701.9 335.8 Z" fill="#262626"/>
<path d="M704.5 335.8 C706.15 335.8 706.45 333.27 706.45 329.48 L706.6 316.1 Q707.1 313.9 707.6 316.1 L707.75 329.48 C707.75 333.27 708.05 335.8 709.7 335.8 Z" fill="#262626"/>
<rect x="7.6" y="375" width="888.2" height="116.6" fill="none" stroke="#9a9a9a" stroke-width="1"/>
<line x1="7.6" y1="375" x2="895.8" y2="375" stroke="#666" stroke-width="1.3"/>
<line x1="7.6" y1="382" x2="895.8" y2="382" stroke="#5a5a5a" stroke-width="1.3"/>
<line x1="620.8" y1="375.8" x2="620.8" y2="381.2" stroke="#ddd" stroke-width="0.8"/>
<line x1="758.6" y1="375.8" x2="758.6" y2="381.2" stroke="#ddd" stroke-width="0.8"/>
<text x="10" y="381.3" font-family="'Liberation Sans', Arial, sans-serif" font-size="6.3" font-weight="normal" fill="#000" text-anchor="start">08_H01_CellLineAuthentication-1-0927.fsa</text>
<text x="259.3" y="381.3" font-family="'Liberation Sans', Arial, sans-serif" font-size="6.2" font-weight="normal" fill="#000" text-anchor="start">H22</text>
<text x="424.4" y="381.3" font-family="'Liberation Sans', Arial, sans-serif" font-size="6.2" font-weight="normal" fill="#000" text-anchor="start">21Plex_STR_Panel_v1.1</text>
<rect x="686.6" y="375.8" width="5.4" height="5.4" fill="#27b327"/>
<rect x="824.3" y="375.8" width="5.4" height="5.4" fill="#27b327"/>
<rect x="88.4" y="385.9" width="17.9" height="6.7" fill="#a6a6a6" stroke="#8e8e8e" stroke-width="1"/>
<text x="89.5" y="391" font-family="'Liberation Sans', Arial, sans-serif" font-size="6" font-weight="bold" fill="#000" text-anchor="start">AM</text>
<rect x="114.9" y="385.9" width="112.8" height="6.7" fill="#c4c4c4" stroke="#8e8e8e" stroke-width="1"/>
<text x="171.3" y="391" font-family="'Liberation Sans', Arial, sans-serif" font-size="6.4" font-weight="normal" fill="#111" text-anchor="middle">D1S1656</text>
<rect x="238.7" y="385.9" width="107" height="6.7" fill="#c4c4c4" stroke="#8e8e8e" stroke-width="1"/>
<text x="292.2" y="391" font-family="'Liberation Sans', Arial, sans-serif" font-size="6.4" font-weight="normal" fill="#111" text-anchor="middle">D5S818</text>
<rect x="356.7" y="385.9" width="116.5" height="6.7" fill="#c4c4c4" stroke="#8e8e8e" stroke-width="1"/>
<text x="414.95" y="391" font-family="'Liberation Sans', Arial, sans-serif" font-size="6.4" font-weight="normal" fill="#111" text-anchor="middle">D12S391</text>
<rect x="486.7" y="385.9" width="282.9" height="6.7" fill="#c4c4c4" stroke="#8e8e8e" stroke-width="1"/>
<text x="628.15" y="391" font-family="'Liberation Sans', Arial, sans-serif" font-size="6.4" font-weight="normal" fill="#111" text-anchor="middle">FGA</text>
<text x="41.5" y="401.6" font-family="'Liberation Sans', Arial, sans-serif" font-size="5.6" font-weight="normal" fill="#111" text-anchor="middle">80</text>
<line x1="80.32" y1="403.2" x2="80.32" y2="405" stroke="#bbb" stroke-width="0.7"/>
<text x="119.14" y="401.6" font-family="'Liberation Sans', Arial, sans-serif" font-size="5.6" font-weight="normal" fill="#111" text-anchor="middle">120</text>
<line x1="119.14" y1="403.2" x2="119.14" y2="405" stroke="#bbb" stroke-width="0.7"/>
<line x1="157.96" y1="403.2" x2="157.96" y2="405" stroke="#bbb" stroke-width="0.7"/>
<text x="196.78" y="401.6" font-family="'Liberation Sans', Arial, sans-serif" font-size="5.6" font-weight="normal" fill="#111" text-anchor="middle">160</text>
<line x1="196.78" y1="403.2" x2="196.78" y2="405" stroke="#bbb" stroke-width="0.7"/>
<line x1="235.6" y1="403.2" x2="235.6" y2="405" stroke="#bbb" stroke-width="0.7"/>
<text x="274.42" y="401.6" font-family="'Liberation Sans', Arial, sans-serif" font-size="5.6" font-weight="normal" fill="#111" text-anchor="middle">200</text>
<line x1="274.42" y1="403.2" x2="274.42" y2="405" stroke="#bbb" stroke-width="0.7"/>
<line x1="313.24" y1="403.2" x2="313.24" y2="405" stroke="#bbb" stroke-width="0.7"/>
<text x="352.06" y="401.6" font-family="'Liberation Sans', Arial, sans-serif" font-size="5.6" font-weight="normal" fill="#111" text-anchor="middle">240</text>
<line x1="352.06" y1="403.2" x2="352.06" y2="405" stroke="#bbb" stroke-width="0.7"/>
<line x1="390.88" y1="403.2" x2="390.88" y2="405" stroke="#bbb" stroke-width="0.7"/>
<text x="429.7" y="401.6" font-family="'Liberation Sans', Arial, sans-serif" font-size="5.6" font-weight="normal" fill="#111" text-anchor="middle">280</text>
<line x1="429.7" y1="403.2" x2="429.7" y2="405" stroke="#bbb" stroke-width="0.7"/>
<line x1="468.52" y1="403.2" x2="468.52" y2="405" stroke="#bbb" stroke-width="0.7"/>
<text x="507.34" y="401.6" font-family="'Liberation Sans', Arial, sans-serif" font-size="5.6" font-weight="normal" fill="#111" text-anchor="middle">320</text>
<line x1="507.34" y1="403.2" x2="507.34" y2="405" stroke="#bbb" stroke-width="0.7"/>
<line x1="546.16" y1="403.2" x2="546.16" y2="405" stroke="#bbb" stroke-width="0.7"/>
<text x="584.98" y="401.6" font-family="'Liberation Sans', Arial, sans-serif" font-size="5.6" font-weight="normal" fill="#111" text-anchor="middle">360</text>
<line x1="584.98" y1="403.2" x2="584.98" y2="405" stroke="#bbb" stroke-width="0.7"/>
<line x1="623.8" y1="403.2" x2="623.8" y2="405" stroke="#bbb" stroke-width="0.7"/>
<text x="662.62" y="401.6" font-family="'Liberation Sans', Arial, sans-serif" font-size="5.6" font-weight="normal" fill="#111" text-anchor="middle">400</text>
<line x1="662.62" y1="403.2" x2="662.62" y2="405" stroke="#bbb" stroke-width="0.7"/>
<line x1="701.44" y1="403.2" x2="701.44" y2="405" stroke="#bbb" stroke-width="0.7"/>
<text x="740.26" y="401.6" font-family="'Liberation Sans', Arial, sans-serif" font-size="5.6" font-weight="normal" fill="#111" text-anchor="middle">440</text>
<line x1="740.26" y1="403.2" x2="740.26" y2="405" stroke="#bbb" stroke-width="0.7"/>
<line x1="779.08" y1="403.2" x2="779.08" y2="405" stroke="#bbb" stroke-width="0.7"/>
<text x="817.9" y="401.6" font-family="'Liberation Sans', Arial, sans-serif" font-size="5.6" font-weight="normal" fill="#111" text-anchor="middle">480</text>
<line x1="817.9" y1="403.2" x2="817.9" y2="405" stroke="#bbb" stroke-width="0.7"/>
<line x1="856.72" y1="403.2" x2="856.72" y2="405" stroke="#bbb" stroke-width="0.7"/>
<line x1="91.9" y1="404.6" x2="91.9" y2="461" stroke="#d5d5d5" stroke-width="2.1"/>
<line x1="102.2" y1="404.6" x2="102.2" y2="461" stroke="#d5d5d5" stroke-width="2.1"/>
<line x1="125.9" y1="404.6" x2="125.9" y2="461" stroke="#d5d5d5" stroke-width="2.1"/>
<line x1="134.1" y1="404.6" x2="134.1" y2="461" stroke="#d5d5d5" stroke-width="2.1"/>
<line x1="142.3" y1="404.6" x2="142.3" y2="461" stroke="#d5d5d5" stroke-width="2.1"/>
<line x1="150.2" y1="404.6" x2="150.2" y2="461" stroke="#d5d5d5" stroke-width="2.1"/>
<line x1="158.3" y1="404.6" x2="158.3" y2="461" stroke="#d5d5d5" stroke-width="2.1"/>
<line x1="166.5" y1="404.6" x2="166.5" y2="461" stroke="#d5d5d5" stroke-width="2.1"/>
<line x1="174.9" y1="404.6" x2="174.9" y2="461" stroke="#d5d5d5" stroke-width="2.1"/>
<line x1="183.3" y1="404.6" x2="183.3" y2="461" stroke="#d5d5d5" stroke-width="2.1"/>
<line x1="191.7" y1="404.6" x2="191.7" y2="461" stroke="#d5d5d5" stroke-width="2.1"/>
<line x1="198.9" y1="404.6" x2="198.9" y2="461" stroke="#d5d5d5" stroke-width="2.1"/>
<line x1="200.2" y1="404.6" x2="200.2" y2="461" stroke="#d5d5d5" stroke-width="2.1"/>
<line x1="206.9" y1="404.6" x2="206.9" y2="461" stroke="#d5d5d5" stroke-width="2.1"/>
<line x1="208.1" y1="404.6" x2="208.1" y2="461" stroke="#d5d5d5" stroke-width="2.1"/>
<line x1="214.8" y1="404.6" x2="214.8" y2="461" stroke="#d5d5d5" stroke-width="2.1"/>
<line x1="216.1" y1="404.6" x2="216.1" y2="461" stroke="#d5d5d5" stroke-width="2.1"/>
<line x1="224" y1="404.6" x2="224" y2="461" stroke="#d5d5d5" stroke-width="2.1"/>
<line x1="243.9" y1="404.6" x2="243.9" y2="461" stroke="#d5d5d5" stroke-width="2.1"/>
<line x1="251.6" y1="404.6" x2="251.6" y2="461" stroke="#d5d5d5" stroke-width="2.1"/>
<line x1="259.5" y1="404.6" x2="259.5" y2="461" stroke="#d5d5d5" stroke-width="2.1"/>
<line x1="266.9" y1="404.6" x2="266.9" y2="461" stroke="#d5d5d5" stroke-width="2.1"/>
<line x1="274.1" y1="404.6" x2="274.1" y2="461" stroke="#d5d5d5" stroke-width="2.1"/>
<line x1="281.7" y1="404.6" x2="281.7" y2="461" stroke="#d5d5d5" stroke-width="2.1"/>
<line x1="289.4" y1="404.6" x2="289.4" y2="461" stroke="#d5d5d5" stroke-width="2.1"/>
<line x1="296.5" y1="404.6" x2="296.5" y2="461" stroke="#d5d5d5" stroke-width="2.1"/>
<line x1="304.5" y1="404.6" x2="304.5" y2="461" stroke="#d5d5d5" stroke-width="2.1"/>
<line x1="312.4" y1="404.6" x2="312.4" y2="461" stroke="#d5d5d5" stroke-width="2.1"/>
<line x1="320" y1="404.6" x2="320" y2="461" stroke="#d5d5d5" stroke-width="2.1"/>
<line x1="327.7" y1="404.6" x2="327.7" y2="461" stroke="#d5d5d5" stroke-width="2.1"/>
<line x1="358.9" y1="404.6" x2="358.9" y2="461" stroke="#d5d5d5" stroke-width="2.1"/>
<line x1="367.3" y1="404.6" x2="367.3" y2="461" stroke="#d5d5d5" stroke-width="2.1"/>
<line x1="374.9" y1="404.6" x2="374.9" y2="461" stroke="#d5d5d5" stroke-width="2.1"/>
<line x1="382.6" y1="404.6" x2="382.6" y2="461" stroke="#d5d5d5" stroke-width="2.1"/>
<line x1="390.3" y1="404.6" x2="390.3" y2="461" stroke="#d5d5d5" stroke-width="2.1"/>
<line x1="397.9" y1="404.6" x2="397.9" y2="461" stroke="#d5d5d5" stroke-width="2.1"/>
<line x1="405.6" y1="404.6" x2="405.6" y2="461" stroke="#d5d5d5" stroke-width="2.1"/>
<line x1="411.5" y1="404.6" x2="411.5" y2="461" stroke="#d5d5d5" stroke-width="2.1"/>
<line x1="413.3" y1="404.6" x2="413.3" y2="461" stroke="#d5d5d5" stroke-width="2.1"/>
<line x1="421.3" y1="404.6" x2="421.3" y2="461" stroke="#d5d5d5" stroke-width="2.1"/>
<line x1="430.1" y1="404.6" x2="430.1" y2="461" stroke="#d5d5d5" stroke-width="2.1"/>
<line x1="438.3" y1="404.6" x2="438.3" y2="461" stroke="#d5d5d5" stroke-width="2.1"/>
<line x1="446" y1="404.6" x2="446" y2="461" stroke="#d5d5d5" stroke-width="2.1"/>
<line x1="454.1" y1="404.6" x2="454.1" y2="461" stroke="#d5d5d5" stroke-width="2.1"/>
<line x1="462.1" y1="404.6" x2="462.1" y2="461" stroke="#d5d5d5" stroke-width="2.1"/>
<line x1="470.2" y1="404.6" x2="470.2" y2="461" stroke="#d5d5d5" stroke-width="2.1"/>
<line x1="501.6" y1="404.6" x2="501.6" y2="461" stroke="#d5d5d5" stroke-width="2.1"/>
<line x1="509.8" y1="404.6" x2="509.8" y2="461" stroke="#d5d5d5" stroke-width="2.1"/>
<line x1="514.2" y1="404.6" x2="514.2" y2="461" stroke="#d5d5d5" stroke-width="2.1"/>
<line x1="518.18" y1="404.6" x2="518.18" y2="461" stroke="#d5d5d5" stroke-width="2.1"/>
<line x1="522.16" y1="404.6" x2="522.16" y2="461" stroke="#d5d5d5" stroke-width="2.1"/>
<line x1="526.14" y1="404.6" x2="526.14" y2="461" stroke="#d5d5d5" stroke-width="2.1"/>
<line x1="530.13" y1="404.6" x2="530.13" y2="461" stroke="#d5d5d5" stroke-width="2.1"/>
<line x1="534.11" y1="404.6" x2="534.11" y2="461" stroke="#d5d5d5" stroke-width="2.1"/>
<line x1="538.09" y1="404.6" x2="538.09" y2="461" stroke="#d5d5d5" stroke-width="2.1"/>
<line x1="542.07" y1="404.6" x2="542.07" y2="461" stroke="#d5d5d5" stroke-width="2.1"/>
<line x1="546.05" y1="404.6" x2="546.05" y2="461" stroke="#d5d5d5" stroke-width="2.1"/>
<line x1="550.03" y1="404.6" x2="550.03" y2="461" stroke="#d5d5d5" stroke-width="2.1"/>
<line x1="554.01" y1="404.6" x2="554.01" y2="461" stroke="#d5d5d5" stroke-width="2.1"/>
<line x1="558" y1="404.6" x2="558" y2="461" stroke="#d5d5d5" stroke-width="2.1"/>
<line x1="561.98" y1="404.6" x2="561.98" y2="461" stroke="#d5d5d5" stroke-width="2.1"/>
<line x1="565.96" y1="404.6" x2="565.96" y2="461" stroke="#d5d5d5" stroke-width="2.1"/>
<line x1="569.94" y1="404.6" x2="569.94" y2="461" stroke="#d5d5d5" stroke-width="2.1"/>
<line x1="573.92" y1="404.6" x2="573.92" y2="461" stroke="#d5d5d5" stroke-width="2.1"/>
<line x1="577.9" y1="404.6" x2="577.9" y2="461" stroke="#d5d5d5" stroke-width="2.1"/>
<line x1="581.89" y1="404.6" x2="581.89" y2="461" stroke="#d5d5d5" stroke-width="2.1"/>
<line x1="585.87" y1="404.6" x2="585.87" y2="461" stroke="#d5d5d5" stroke-width="2.1"/>
<line x1="589.85" y1="404.6" x2="589.85" y2="461" stroke="#d5d5d5" stroke-width="2.1"/>
<line x1="593.83" y1="404.6" x2="593.83" y2="461" stroke="#d5d5d5" stroke-width="2.1"/>
<line x1="597.81" y1="404.6" x2="597.81" y2="461" stroke="#d5d5d5" stroke-width="2.1"/>
<line x1="601.79" y1="404.6" x2="601.79" y2="461" stroke="#d5d5d5" stroke-width="2.1"/>
<line x1="605.77" y1="404.6" x2="605.77" y2="461" stroke="#d5d5d5" stroke-width="2.1"/>
<line x1="609.76" y1="404.6" x2="609.76" y2="461" stroke="#d5d5d5" stroke-width="2.1"/>
<line x1="613.74" y1="404.6" x2="613.74" y2="461" stroke="#d5d5d5" stroke-width="2.1"/>
<line x1="617.72" y1="404.6" x2="617.72" y2="461" stroke="#d5d5d5" stroke-width="2.1"/>
<line x1="621.7" y1="404.6" x2="621.7" y2="461" stroke="#d5d5d5" stroke-width="2.1"/>
<line x1="624.4" y1="404.6" x2="624.4" y2="461" stroke="#d5d5d5" stroke-width="2.1"/>
<line x1="627.8" y1="404.6" x2="627.8" y2="461" stroke="#d5d5d5" stroke-width="2.1"/>
<line x1="685.3" y1="404.6" x2="685.3" y2="461" stroke="#d5d5d5" stroke-width="2.1"/>
<line x1="692.5" y1="404.6" x2="692.5" y2="461" stroke="#d5d5d5" stroke-width="2.1"/>
<line x1="700.3" y1="404.6" x2="700.3" y2="461" stroke="#d5d5d5" stroke-width="2.1"/>
<line x1="707.7" y1="404.6" x2="707.7" y2="461" stroke="#d5d5d5" stroke-width="2.1"/>
<line x1="714.9" y1="404.6" x2="714.9" y2="461" stroke="#d5d5d5" stroke-width="2.1"/>
<line x1="722.7" y1="404.6" x2="722.7" y2="461" stroke="#d5d5d5" stroke-width="2.1"/>
<line x1="729.5" y1="404.6" x2="729.5" y2="461" stroke="#d5d5d5" stroke-width="2.1"/>
<line x1="737" y1="404.6" x2="737" y2="461" stroke="#d5d5d5" stroke-width="2.1"/>
<line x1="744.5" y1="404.6" x2="744.5" y2="461" stroke="#d5d5d5" stroke-width="2.1"/>
<line x1="751.9" y1="404.6" x2="751.9" y2="461" stroke="#d5d5d5" stroke-width="2.1"/>
<line x1="759.1" y1="404.6" x2="759.1" y2="461" stroke="#d5d5d5" stroke-width="2.1"/>
<line x1="766.5" y1="404.6" x2="766.5" y2="461" stroke="#d5d5d5" stroke-width="2.1"/>
<line x1="41.5" y1="404.4" x2="889.5" y2="404.4" stroke="#8c8c8c" stroke-width="1"/>
<line x1="889.5" y1="404.4" x2="889.5" y2="461" stroke="#777" stroke-width="0.9"/>
<line x1="41.5" y1="404.4" x2="41.5" y2="461" stroke="#707070" stroke-width="1"/>
<text x="38.9" y="412.4" font-family="'Liberation Sans', Arial, sans-serif" font-size="5.4" font-weight="normal" fill="#111" text-anchor="end">9000</text>
<line x1="39.9" y1="410.4" x2="41.5" y2="410.4" stroke="#555" stroke-width="0.8"/>
<text x="38.9" y="429.2" font-family="'Liberation Sans', Arial, sans-serif" font-size="5.4" font-weight="normal" fill="#111" text-anchor="end">6000</text>
<line x1="39.9" y1="427.2" x2="41.5" y2="427.2" stroke="#555" stroke-width="0.8"/>
<text x="38.9" y="446.1" font-family="'Liberation Sans', Arial, sans-serif" font-size="5.4" font-weight="normal" fill="#111" text-anchor="end">3000</text>
<line x1="39.9" y1="444.1" x2="41.5" y2="444.1" stroke="#555" stroke-width="0.8"/>
<text x="38.9" y="463" font-family="'Liberation Sans', Arial, sans-serif" font-size="5.4" font-weight="normal" fill="#111" text-anchor="end">0</text>
<line x1="39.9" y1="461" x2="41.5" y2="461" stroke="#555" stroke-width="0.8"/>
<line x1="40.5" y1="418.83" x2="41.5" y2="418.83" stroke="#777" stroke-width="0.7"/>
<line x1="40.5" y1="435.63" x2="41.5" y2="435.63" stroke="#777" stroke-width="0.7"/>
<line x1="40.5" y1="452.53" x2="41.5" y2="452.53" stroke="#777" stroke-width="0.7"/>
<line x1="92.2" y1="461.5" x2="92.2" y2="465.3" stroke="#8a8a8a" stroke-width="0.7"/>
<rect x="89.1" y="465.3" width="7.4" height="9.4" fill="#fff" stroke="#cdcdcd" stroke-width="0.8"/>
<text x="93.2" y="472.5" font-family="'Liberation Serif', 'Times New Roman', serif" font-size="7.4" font-weight="normal" fill="#000" text-anchor="middle" letter-spacing="0.2">X</text>
<line x1="175.2" y1="461.5" x2="175.2" y2="465.3" stroke="#8a8a8a" stroke-width="0.7"/>
<rect x="170.5" y="465.3" width="10.6" height="9.4" fill="#fff" stroke="#cdcdcd" stroke-width="0.8"/>
<text x="176.2" y="472.5" font-family="'Liberation Serif', 'Times New Roman', serif" font-size="7.4" font-weight="normal" fill="#000" text-anchor="middle" letter-spacing="0.2">15</text>
<line x1="182.1" y1="461.5" x2="182.1" y2="479.3" stroke="#8a8a8a" stroke-width="0.7"/>
<rect x="177.4" y="479.3" width="10.6" height="9.5" fill="#fff" stroke="#cdcdcd" stroke-width="0.8"/>
<text x="183.1" y="486.6" font-family="'Liberation Serif', 'Times New Roman', serif" font-size="7.4" font-weight="normal" fill="#000" text-anchor="middle" letter-spacing="0.2">16</text>
<line x1="281.7" y1="461.5" x2="281.7" y2="465.3" stroke="#8a8a8a" stroke-width="0.7"/>
<rect x="277" y="465.3" width="10.6" height="9.4" fill="#fff" stroke="#cdcdcd" stroke-width="0.8"/>
<text x="282.7" y="472.5" font-family="'Liberation Serif', 'Times New Roman', serif" font-size="7.4" font-weight="normal" fill="#000" text-anchor="middle" letter-spacing="0.2">11</text>
<line x1="289.1" y1="461.5" x2="289.1" y2="479.3" stroke="#8a8a8a" stroke-width="0.7"/>
<rect x="284.4" y="479.3" width="10.6" height="9.5" fill="#fff" stroke="#cdcdcd" stroke-width="0.8"/>
<text x="290.1" y="486.6" font-family="'Liberation Serif', 'Times New Roman', serif" font-size="7.4" font-weight="normal" fill="#000" text-anchor="middle" letter-spacing="0.2">12</text>
<line x1="430.1" y1="461.5" x2="430.1" y2="465.3" stroke="#8a8a8a" stroke-width="0.7"/>
<rect x="425.4" y="465.3" width="10.6" height="9.4" fill="#fff" stroke="#cdcdcd" stroke-width="0.8"/>
<text x="431.1" y="472.5" font-family="'Liberation Serif', 'Times New Roman', serif" font-size="7.4" font-weight="normal" fill="#000" text-anchor="middle" letter-spacing="0.2">22</text>
<line x1="532" y1="461.5" x2="532" y2="465.3" stroke="#8a8a8a" stroke-width="0.7"/>
<rect x="527.3" y="465.3" width="10.6" height="9.4" fill="#fff" stroke="#cdcdcd" stroke-width="0.8"/>
<text x="533" y="472.5" font-family="'Liberation Serif', 'Times New Roman', serif" font-size="7.4" font-weight="normal" fill="#000" text-anchor="middle" letter-spacing="0.2">19</text>
<line x1="581.3" y1="461.5" x2="581.3" y2="465.3" stroke="#8a8a8a" stroke-width="0.7"/>
<rect x="576.6" y="465.3" width="10.6" height="9.4" fill="#fff" stroke="#cdcdcd" stroke-width="0.8"/>
<text x="582.3" y="472.5" font-family="'Liberation Serif', 'Times New Roman', serif" font-size="7.4" font-weight="normal" fill="#000" text-anchor="middle" letter-spacing="0.2">26</text>
<path d="M87.04 460.8 C90.1 460.8 90.4 458.27 90.4 454.48 L91.1 441.5 Q92.2 439.3 93.3 441.5 L94 454.48 C94 458.27 94.3 460.8 97.36 460.8 Z" fill="#efb4c2"/>
<path d="M170.42 460.8 C173.12 460.8 173.42 458.98 173.42 456.25 L174.1 448.6 Q175.2 446.4 176.3 448.6 L176.97 456.25 C176.97 458.98 177.28 460.8 179.98 460.8 Z" fill="#efb4c2"/>
<path d="M176.56 460.8 C179.97 460.8 180.28 457.58 180.28 452.75 L181 434.6 Q182.1 432.4 183.2 434.6 L183.92 452.75 C183.92 457.58 184.22 460.8 187.64 460.8 Z" fill="#efb4c2"/>
<path d="M277.3 460.8 C279.65 460.8 279.95 458.93 279.95 456.12 L280.6 448.1 Q281.7 445.9 282.8 448.1 L283.45 456.12 C283.45 458.93 283.75 460.8 286.1 460.8 Z" fill="#efb4c2"/>
<path d="M284.32 460.8 C287.03 460.8 287.33 458.04 287.33 453.9 L288 439.2 Q289.1 437 290.2 439.2 L290.88 453.9 C290.88 458.04 291.18 460.8 293.88 460.8 Z" fill="#efb4c2"/>
<path d="M419.24 460.8 C420.52 460.8 420.82 460.04 420.82 458.9 L421.4 459.2 Q422.5 457 423.6 459.2 L424.18 458.9 C424.18 460.04 424.48 460.8 425.76 460.8 Z" fill="#efb4c2"/>
<path d="M425.32 460.8 C428.03 460.8 428.33 457.2 428.33 451.8 L429 426.9 Q430.1 424.7 431.2 426.9 L431.88 451.8 C431.88 457.2 432.18 460.8 434.88 460.8 Z" fill="#efb4c2"/>
<path d="M527.22 460.8 C529.93 460.8 530.23 458.16 530.23 454.2 L530.9 440.4 Q532 438.2 533.1 440.4 L533.77 454.2 C533.77 458.16 534.07 460.8 536.78 460.8 Z" fill="#efb4c2"/>
<path d="M576.52 460.8 C579.23 460.8 579.52 458.47 579.52 454.98 L580.2 443.5 Q581.3 441.3 582.4 443.5 L583.07 454.98 C583.07 458.47 583.37 460.8 586.08 460.8 Z" fill="#efb4c2"/>
<line x1="41.5" y1="461" x2="889.5" y2="461" stroke="#c05a6e" stroke-width="1.4"/>
<path d="M89.08 460.8 C91.23 460.8 91.53 458.27 91.53 454.48 L91.7 441.1 Q92.2 438.9 92.7 441.1 L92.87 454.48 C92.87 458.27 93.17 460.8 95.32 460.8 Z" fill="#a23a56"/>
<path d="M172.34 460.8 C174.24 460.8 174.54 458.98 174.54 456.25 L174.7 448.2 Q175.2 446 175.7 448.2 L175.86 456.25 C175.86 458.98 176.16 460.8 178.06 460.8 Z" fill="#a23a56"/>
<path d="M178.72 460.8 C181.12 460.8 181.42 457.58 181.42 452.75 L181.6 434.2 Q182.1 432 182.6 434.2 L182.78 452.75 C182.78 457.58 183.08 460.8 185.48 460.8 Z" fill="#a23a56"/>
<path d="M279.1 460.8 C280.75 460.8 281.05 458.93 281.05 456.12 L281.2 447.7 Q281.7 445.5 282.2 447.7 L282.35 456.12 C282.35 458.93 282.65 460.8 284.3 460.8 Z" fill="#a23a56"/>
<path d="M286.24 460.8 C288.14 460.8 288.44 458.04 288.44 453.9 L288.6 438.8 Q289.1 436.6 289.6 438.8 L289.76 453.9 C289.76 458.04 290.06 460.8 291.96 460.8 Z" fill="#a23a56"/>
<path d="M420.68 460.8 C421.58 460.8 421.88 460.04 421.88 458.9 L422 458.8 Q422.5 456.6 423 458.8 L423.12 458.9 C423.12 460.04 423.42 460.8 424.32 460.8 Z" fill="#a23a56"/>
<path d="M427.24 460.8 C429.14 460.8 429.44 457.2 429.44 451.8 L429.6 426.5 Q430.1 424.3 430.6 426.5 L430.76 451.8 C430.76 457.2 431.06 460.8 432.96 460.8 Z" fill="#a23a56"/>
<path d="M529.14 460.8 C531.04 460.8 531.34 458.16 531.34 454.2 L531.5 440 Q532 437.8 532.5 440 L532.66 454.2 C532.66 458.16 532.96 460.8 534.86 460.8 Z" fill="#a23a56"/>
<path d="M578.44 460.8 C580.34 460.8 580.64 458.47 580.64 454.98 L580.8 443.1 Q581.3 440.9 581.8 443.1 L581.96 454.98 C581.96 458.47 582.26 460.8 584.16 460.8 Z" fill="#a23a56"/>
</g></svg></body></html>
